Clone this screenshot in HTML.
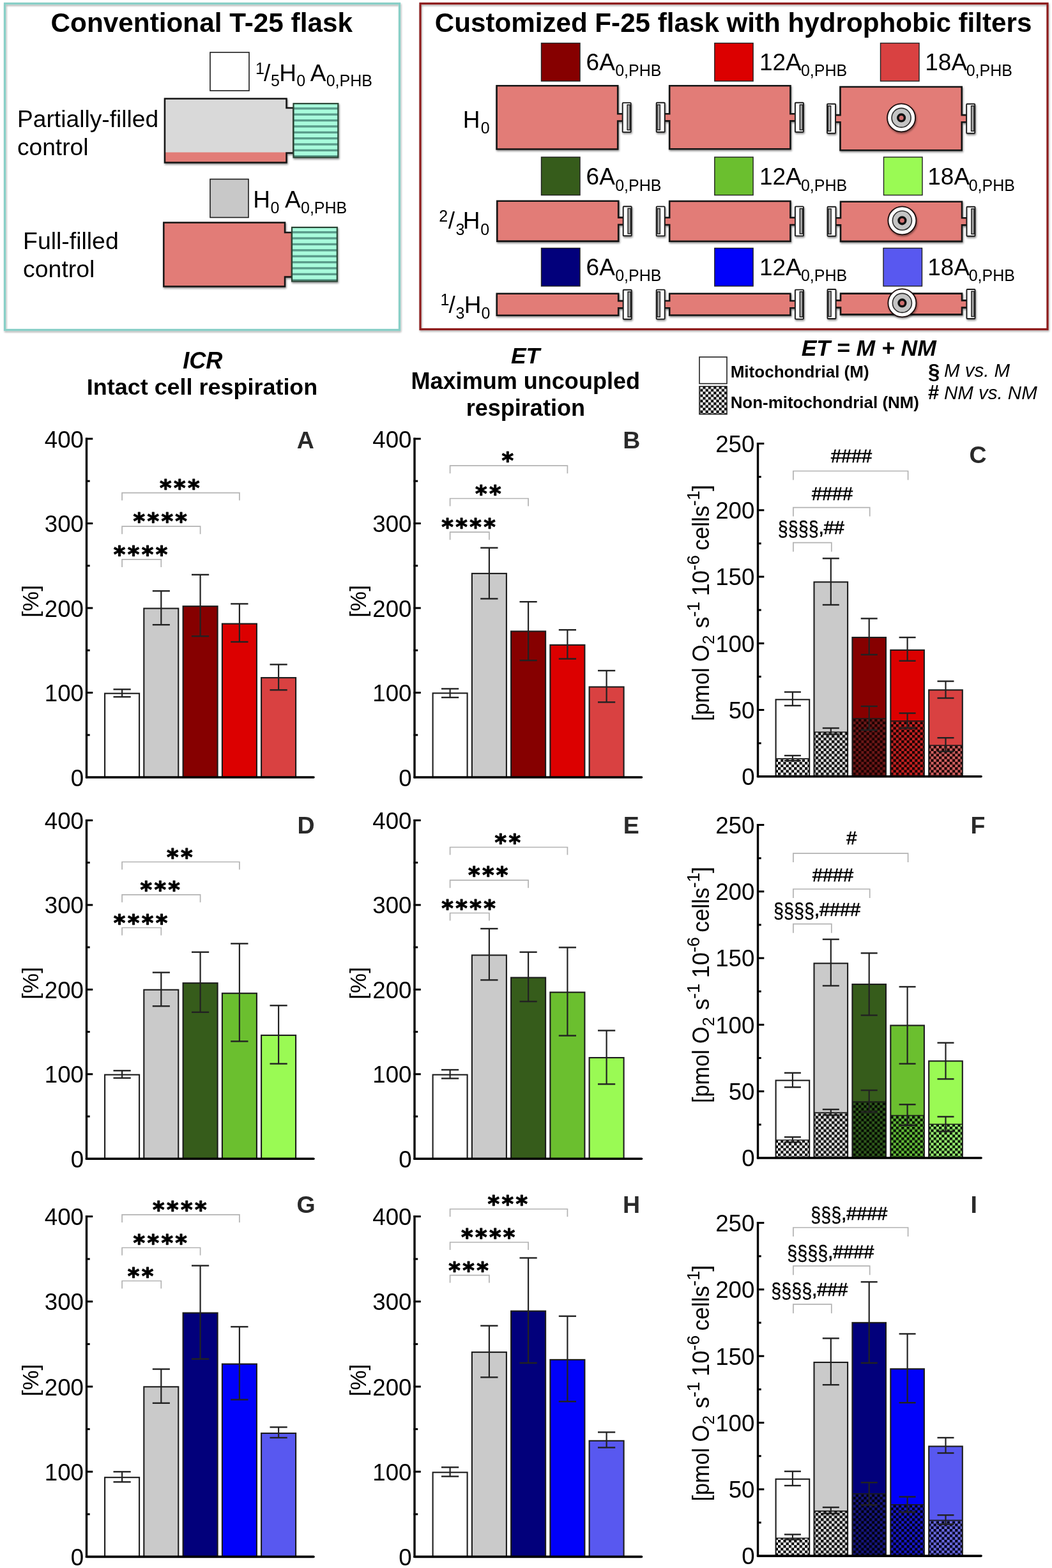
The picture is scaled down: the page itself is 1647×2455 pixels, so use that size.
<!DOCTYPE html><html><head><meta charset="utf-8"><title>F-25 flask respiration figure</title>
<style>html,body{margin:0;padding:0;background:#fff;overflow:hidden;}svg{display:block;}</style></head><body>
<svg width="1647" height="2455" viewBox="0 0 1647 2455">
<defs>
<filter id="sh" x="-10%" y="-10%" width="130%" height="140%"><feGaussianBlur in="SourceAlpha" stdDeviation="1.6"/><feOffset dx="0.6" dy="2.2" result="b"/><feComponentTransfer><feFuncA type="linear" slope="0.45"/></feComponentTransfer><feMerge><feMergeNode/><feMergeNode in="SourceGraphic"/></feMerge></filter>
<filter id="sh2" x="-5%" y="-5%" width="110%" height="110%"><feGaussianBlur in="SourceAlpha" stdDeviation="1.5"/><feOffset dx="0.5" dy="1.8" result="b"/><feComponentTransfer><feFuncA type="linear" slope="0.35"/></feComponentTransfer><feMerge><feMergeNode/><feMergeNode in="SourceGraphic"/></feMerge></filter>
<pattern id="chkW" patternUnits="userSpaceOnUse" width="8.4" height="8.4"><rect width="8.4" height="8.4" fill="#ffffff"/><rect width="4.2" height="4.2" fill="#000000"/><rect x="4.2" y="4.2" width="4.2" height="4.2" fill="#000000"/></pattern>
<pattern id="chkG" patternUnits="userSpaceOnUse" width="8.4" height="8.4"><rect width="8.4" height="8.4" fill="#dedede"/><rect width="4.2" height="4.2" fill="#000000"/><rect x="4.2" y="4.2" width="4.2" height="4.2" fill="#000000"/></pattern>
<pattern id="chkDR" patternUnits="userSpaceOnUse" width="8.4" height="8.4"><rect width="8.4" height="8.4" fill="#6c1818"/><rect width="4.2" height="4.2" fill="#1a0000"/><rect x="4.2" y="4.2" width="4.2" height="4.2" fill="#1a0000"/></pattern>
<pattern id="chkR" patternUnits="userSpaceOnUse" width="8.4" height="8.4"><rect width="8.4" height="8.4" fill="#c42222"/><rect width="4.2" height="4.2" fill="#180000"/><rect x="4.2" y="4.2" width="4.2" height="4.2" fill="#180000"/></pattern>
<pattern id="chkLR" patternUnits="userSpaceOnUse" width="8.4" height="8.4"><rect width="8.4" height="8.4" fill="#d26262"/><rect width="4.2" height="4.2" fill="#180000"/><rect x="4.2" y="4.2" width="4.2" height="4.2" fill="#180000"/></pattern>
<pattern id="chkDG" patternUnits="userSpaceOnUse" width="8.4" height="8.4"><rect width="8.4" height="8.4" fill="#2f5a1c"/><rect width="4.2" height="4.2" fill="#040a02"/><rect x="4.2" y="4.2" width="4.2" height="4.2" fill="#040a02"/></pattern>
<pattern id="chkG2" patternUnits="userSpaceOnUse" width="8.4" height="8.4"><rect width="8.4" height="8.4" fill="#62b838"/><rect width="4.2" height="4.2" fill="#041002"/><rect x="4.2" y="4.2" width="4.2" height="4.2" fill="#041002"/></pattern>
<pattern id="chkLG" patternUnits="userSpaceOnUse" width="8.4" height="8.4"><rect width="8.4" height="8.4" fill="#98f070"/><rect width="4.2" height="4.2" fill="#061204"/><rect x="4.2" y="4.2" width="4.2" height="4.2" fill="#061204"/></pattern>
<pattern id="chkDB" patternUnits="userSpaceOnUse" width="8.4" height="8.4"><rect width="8.4" height="8.4" fill="#16167e"/><rect width="4.2" height="4.2" fill="#00000e"/><rect x="4.2" y="4.2" width="4.2" height="4.2" fill="#00000e"/></pattern>
<pattern id="chkB" patternUnits="userSpaceOnUse" width="8.4" height="8.4"><rect width="8.4" height="8.4" fill="#1818c8"/><rect width="4.2" height="4.2" fill="#000016"/><rect x="4.2" y="4.2" width="4.2" height="4.2" fill="#000016"/></pattern>
<pattern id="chkLB" patternUnits="userSpaceOnUse" width="8.4" height="8.4"><rect width="8.4" height="8.4" fill="#6a6ae0"/><rect width="4.2" height="4.2" fill="#00001c"/><rect x="4.2" y="4.2" width="4.2" height="4.2" fill="#00001c"/></pattern>
</defs>
<rect width="1647" height="2455" fill="#fff"/>
<rect x="7.5" y="5.5" width="618" height="511" fill="none" stroke="#88cfc7" stroke-width="3.2" filter="url(#sh2)"/>
<text x="79.55" y="50.20" font-family="'Liberation Sans', Arial, sans-serif" font-size="42.3" font-weight="bold" font-style="normal" fill="#000" >Conventional T-25 flask</text>
<rect x="329" y="82" width="61" height="60" fill="#fff" stroke="#1c1c1c" stroke-width="1.6"/>
<rect x="329" y="280.5" width="60" height="60" fill="#c8c8c8" stroke="#1c1c1c" stroke-width="1.6"/>
<text font-family="'Liberation Sans', Arial, sans-serif" fill="#000"><tspan x="400.00" y="115.50" font-size="25" font-weight="normal" font-style="normal">1</tspan><tspan x="412.90" y="127.00" font-size="37" font-weight="normal" font-style="normal">/</tspan><tspan x="424.00" y="135.00" font-size="25" font-weight="normal" font-style="normal">5</tspan><tspan x="437.30" y="127.00" font-size="37" font-weight="normal" font-style="normal">H</tspan><tspan x="464.20" y="135.00" font-size="25" font-weight="normal" font-style="normal">0</tspan><tspan x="485.80" y="127.00" font-size="37" font-weight="normal" font-style="normal">A</tspan><tspan x="510.70" y="135.00" font-size="25" font-weight="normal" font-style="normal">0,PHB</tspan></text>
<text font-family="'Liberation Sans', Arial, sans-serif" fill="#000"><tspan x="396.20" y="325.30" font-size="37" font-weight="normal" font-style="normal">H</tspan><tspan x="423.50" y="333.50" font-size="25" font-weight="normal" font-style="normal">0</tspan><tspan x="446.00" y="325.30" font-size="37" font-weight="normal" font-style="normal">A</tspan><tspan x="471.00" y="333.50" font-size="25" font-weight="normal" font-style="normal">0,PHB</tspan></text>
<text x="27.00" y="199.00" font-family="'Liberation Sans', Arial, sans-serif" font-size="37.2" font-weight="normal" font-style="normal" fill="#000" >Partially-filled</text>
<text x="26.90" y="242.70" font-family="'Liberation Sans', Arial, sans-serif" font-size="37.2" font-weight="normal" font-style="normal" fill="#000" >control</text>
<text x="36.10" y="390.10" font-family="'Liberation Sans', Arial, sans-serif" font-size="37.4" font-weight="normal" font-style="normal" fill="#000" >Full-filled</text>
<text x="36.10" y="433.90" font-family="'Liberation Sans', Arial, sans-serif" font-size="37.4" font-weight="normal" font-style="normal" fill="#000" >control</text>
<g filter="url(#sh)"><path d="M258,154.5 L448.5,154.5 L448.5,169 L459.5,169 L459.5,239.5 L448.5,239.5 L448.5,254.5 L258,254.5 Z" fill="#d9d9d9" stroke="none"/>
<rect x="258" y="238.5" width="190.5" height="16.0" fill="#e27c77"/>
<path d="M258,154.5 L448.5,154.5 L448.5,169 L459.5,169 L459.5,239.5 L448.5,239.5 L448.5,254.5 L258,254.5 Z" fill="none" stroke="#141414" stroke-width="2.5" stroke-linejoin="miter"/></g>
<g filter="url(#sh)"><rect x="459.5" y="162.2" width="69.79999999999995" height="84.20000000000002" fill="#a8fcdc"/>
<rect x="459.5" y="168.19" width="69.79999999999995" height="3.37" fill="#5a9c8b"/>
<rect x="459.5" y="177.54" width="69.79999999999995" height="3.37" fill="#5a9c8b"/>
<rect x="459.5" y="186.90" width="69.79999999999995" height="3.37" fill="#5a9c8b"/>
<rect x="459.5" y="196.25" width="69.79999999999995" height="3.37" fill="#5a9c8b"/>
<rect x="459.5" y="205.61" width="69.79999999999995" height="3.37" fill="#5a9c8b"/>
<rect x="459.5" y="214.97" width="69.79999999999995" height="3.37" fill="#5a9c8b"/>
<rect x="459.5" y="224.32" width="69.79999999999995" height="3.37" fill="#5a9c8b"/>
<rect x="459.5" y="233.68" width="69.79999999999995" height="3.37" fill="#5a9c8b"/>
<rect x="459.5" y="243.03" width="69.79999999999995" height="3.37" fill="#5a9c8b"/>
<rect x="459.5" y="162.2" width="69.79999999999995" height="84.20000000000002" fill="none" stroke="#2b4536" stroke-width="2.2"/></g>
<g filter="url(#sh)"><path d="M256.3,348.6 L446,348.6 L446,364 L457,364 L457,433.5 L446,433.5 L446,448.6 L256.3,448.6 Z" fill="#e27c77" stroke="none"/>
<path d="M256.3,348.6 L446,348.6 L446,364 L457,364 L457,433.5 L446,433.5 L446,448.6 L256.3,448.6 Z" fill="none" stroke="#141414" stroke-width="2.5" stroke-linejoin="miter"/></g>
<g filter="url(#sh)"><rect x="457" y="356" width="70.79999999999995" height="84.39999999999998" fill="#a8fcdc"/>
<rect x="457" y="362.00" width="70.79999999999995" height="3.38" fill="#5a9c8b"/>
<rect x="457" y="371.38" width="70.79999999999995" height="3.38" fill="#5a9c8b"/>
<rect x="457" y="380.76" width="70.79999999999995" height="3.38" fill="#5a9c8b"/>
<rect x="457" y="390.14" width="70.79999999999995" height="3.38" fill="#5a9c8b"/>
<rect x="457" y="399.51" width="70.79999999999995" height="3.38" fill="#5a9c8b"/>
<rect x="457" y="408.89" width="70.79999999999995" height="3.38" fill="#5a9c8b"/>
<rect x="457" y="418.27" width="70.79999999999995" height="3.38" fill="#5a9c8b"/>
<rect x="457" y="427.65" width="70.79999999999995" height="3.38" fill="#5a9c8b"/>
<rect x="457" y="437.02" width="70.79999999999995" height="3.38" fill="#5a9c8b"/>
<rect x="457" y="356" width="70.79999999999995" height="84.39999999999998" fill="none" stroke="#2b4536" stroke-width="2.2"/></g>
<rect x="658" y="5.5" width="982" height="510" fill="none" stroke="#8e1d1d" stroke-width="3.2" filter="url(#sh2)"/>
<text x="680.75" y="50.40" font-family="'Liberation Sans', Arial, sans-serif" font-size="42.17" font-weight="bold" font-style="normal" fill="#000" >Customized F-25 flask with hydrophobic filters</text>
<rect x="847.5" y="67.5" width="60.5" height="59.5" fill="#860000" stroke="#222" stroke-width="1.4"/>
<rect x="1118.8" y="67.5" width="60.3" height="59.5" fill="#dc0000" stroke="#222" stroke-width="1.4"/>
<rect x="1378.5" y="67.5" width="60.5" height="59.5" fill="#d94141" stroke="#222" stroke-width="1.4"/>
<text font-family="'Liberation Sans', Arial, sans-serif" fill="#000"><tspan x="917.60" y="109.60" font-size="37" font-weight="normal" font-style="normal">6A</tspan><tspan x="963.20" y="119.20" font-size="25" font-weight="normal" font-style="normal">0,PHB</tspan></text>
<text font-family="'Liberation Sans', Arial, sans-serif" fill="#000"><tspan x="1188.95" y="109.60" font-size="37" font-weight="normal" font-style="normal">12A</tspan><tspan x="1253.90" y="119.20" font-size="25" font-weight="normal" font-style="normal">0,PHB</tspan></text>
<text font-family="'Liberation Sans', Arial, sans-serif" fill="#000"><tspan x="1448.25" y="109.60" font-size="37" font-weight="normal" font-style="normal">18A</tspan><tspan x="1512.70" y="119.20" font-size="25" font-weight="normal" font-style="normal">0,PHB</tspan></text>
<rect x="847.5" y="246" width="60.5" height="59.5" fill="#365c1b" stroke="#222" stroke-width="1.4"/>
<rect x="1118.8" y="246" width="60.3" height="59.5" fill="#6bbf2f" stroke="#222" stroke-width="1.4"/>
<rect x="1383.5" y="246" width="60.5" height="59.5" fill="#9afa54" stroke="#222" stroke-width="1.4"/>
<text font-family="'Liberation Sans', Arial, sans-serif" fill="#000"><tspan x="917.60" y="289.00" font-size="37" font-weight="normal" font-style="normal">6A</tspan><tspan x="963.20" y="298.60" font-size="25" font-weight="normal" font-style="normal">0,PHB</tspan></text>
<text font-family="'Liberation Sans', Arial, sans-serif" fill="#000"><tspan x="1188.95" y="289.00" font-size="37" font-weight="normal" font-style="normal">12A</tspan><tspan x="1253.90" y="298.60" font-size="25" font-weight="normal" font-style="normal">0,PHB</tspan></text>
<text font-family="'Liberation Sans', Arial, sans-serif" fill="#000"><tspan x="1452.25" y="289.00" font-size="37" font-weight="normal" font-style="normal">18A</tspan><tspan x="1516.70" y="298.60" font-size="25" font-weight="normal" font-style="normal">0,PHB</tspan></text>
<rect x="847.5" y="388.5" width="60.5" height="59.5" fill="#02007b" stroke="#222" stroke-width="1.4"/>
<rect x="1118.8" y="388.5" width="60.3" height="59.5" fill="#0000fa" stroke="#222" stroke-width="1.4"/>
<rect x="1383" y="388.5" width="60.5" height="59.5" fill="#5858f0" stroke="#222" stroke-width="1.4"/>
<text font-family="'Liberation Sans', Arial, sans-serif" fill="#000"><tspan x="917.60" y="430.70" font-size="37" font-weight="normal" font-style="normal">6A</tspan><tspan x="963.20" y="440.30" font-size="25" font-weight="normal" font-style="normal">0,PHB</tspan></text>
<text font-family="'Liberation Sans', Arial, sans-serif" fill="#000"><tspan x="1188.95" y="430.70" font-size="37" font-weight="normal" font-style="normal">12A</tspan><tspan x="1253.90" y="440.30" font-size="25" font-weight="normal" font-style="normal">0,PHB</tspan></text>
<text font-family="'Liberation Sans', Arial, sans-serif" fill="#000"><tspan x="1452.25" y="430.70" font-size="37" font-weight="normal" font-style="normal">18A</tspan><tspan x="1516.70" y="440.30" font-size="25" font-weight="normal" font-style="normal">0,PHB</tspan></text>
<g filter="url(#sh)"><path d="M777.6,134.3 L967.2,134.3 L967.2,178.3 L975.2,178.3 L975.2,189.5 L967.2,189.5 L967.2,233.5 L777.6,233.5 Z" fill="#e27c77" stroke="#141414" stroke-width="2.6"/>
<rect x="974.7" y="160.9" width="13.0" height="46" fill="#fff" stroke="#1c1c1c" stroke-width="1.9" rx="1"/>
<rect x="982.1" y="164.1" width="4.3" height="39.4" fill="#aaa" stroke="#222" stroke-width="1.5"/>
</g>
<g filter="url(#sh)"><path d="M1048.2,134.3 L1237.4,134.3 L1237.4,178.2 L1245.4,178.2 L1245.4,189.4 L1237.4,189.4 L1237.4,233.3 L1048.2,233.3 L1048.2,189.4 L1040.2,189.4 L1040.2,178.2 L1048.2,178.2 Z" fill="#e27c77" stroke="#141414" stroke-width="2.6"/>
<rect x="1244.9" y="160.8" width="13.0" height="46" fill="#fff" stroke="#1c1c1c" stroke-width="1.9" rx="1"/>
<rect x="1252.3" y="164.0" width="4.3" height="39.4" fill="#aaa" stroke="#222" stroke-width="1.5"/>
<rect x="1027.7" y="160.8" width="13.0" height="46" fill="#fff" stroke="#1c1c1c" stroke-width="1.9" rx="1"/>
<rect x="1029.0" y="164.0" width="4.3" height="39.4" fill="#aaa" stroke="#222" stroke-width="1.5"/>
</g>
<g filter="url(#sh)"><path d="M1315.5,136 L1505.7,136 L1505.7,180.1 L1513.7,180.1 L1513.7,191.2 L1505.7,191.2 L1505.7,235.3 L1315.5,235.3 L1315.5,191.2 L1307.5,191.2 L1307.5,180.1 L1315.5,180.1 Z" fill="#e27c77" stroke="#141414" stroke-width="2.6"/>
<rect x="1513.2" y="162.7" width="13.0" height="46" fill="#fff" stroke="#1c1c1c" stroke-width="1.9" rx="1"/>
<rect x="1520.6" y="165.8" width="4.3" height="39.4" fill="#aaa" stroke="#222" stroke-width="1.5"/>
<rect x="1295.0" y="162.7" width="13.0" height="46" fill="#fff" stroke="#1c1c1c" stroke-width="1.9" rx="1"/>
<rect x="1296.3" y="165.8" width="4.3" height="39.4" fill="#aaa" stroke="#222" stroke-width="1.5"/>
</g>
<g filter="url(#sh)"><circle cx="1411.1" cy="184.4" r="22" fill="#fff" stroke="#1a0a0a" stroke-width="1.8"/></g>
<circle cx="1411.1" cy="184.4" r="15" fill="#c4c4c4" stroke="#2a2a2a" stroke-width="1.6"/>
<circle cx="1411.1" cy="184.4" r="5.3" fill="#d07070" stroke="#111" stroke-width="3.6"/>
<g filter="url(#sh)"><path d="M778.3,314.8 L968.2,314.8 L968.2,340.6 L976.2,340.6 L976.2,351.8 L968.2,351.8 L968.2,377.6 L778.3,377.6 Z" fill="#e27c77" stroke="#141414" stroke-width="2.6"/>
<rect x="975.7" y="323.2" width="13.0" height="46" fill="#fff" stroke="#1c1c1c" stroke-width="1.9" rx="1"/>
<rect x="983.1" y="326.4" width="4.3" height="39.4" fill="#aaa" stroke="#222" stroke-width="1.5"/>
</g>
<g filter="url(#sh)"><path d="M1048.2,315 L1237.4,315 L1237.4,340.8 L1245.4,340.8 L1245.4,352.0 L1237.4,352.0 L1237.4,377.8 L1048.2,377.8 L1048.2,352.0 L1040.2,352.0 L1040.2,340.8 L1048.2,340.8 Z" fill="#e27c77" stroke="#141414" stroke-width="2.6"/>
<rect x="1244.9" y="323.4" width="13.0" height="46" fill="#fff" stroke="#1c1c1c" stroke-width="1.9" rx="1"/>
<rect x="1252.3" y="326.6" width="4.3" height="39.4" fill="#aaa" stroke="#222" stroke-width="1.5"/>
<rect x="1027.7" y="323.4" width="13.0" height="46" fill="#fff" stroke="#1c1c1c" stroke-width="1.9" rx="1"/>
<rect x="1029.0" y="326.6" width="4.3" height="39.4" fill="#aaa" stroke="#222" stroke-width="1.5"/>
</g>
<g filter="url(#sh)"><path d="M1316,315.7 L1506,315.7 L1506,341.2 L1514,341.2 L1514,352.4 L1506,352.4 L1506,377.9 L1316,377.9 L1316,352.4 L1308,352.4 L1308,341.2 L1316,341.2 Z" fill="#e27c77" stroke="#141414" stroke-width="2.6"/>
<rect x="1513.5" y="323.8" width="13.0" height="46" fill="#fff" stroke="#1c1c1c" stroke-width="1.9" rx="1"/>
<rect x="1520.9" y="327.0" width="4.3" height="39.4" fill="#aaa" stroke="#222" stroke-width="1.5"/>
<rect x="1295.5" y="323.8" width="13.0" height="46" fill="#fff" stroke="#1c1c1c" stroke-width="1.9" rx="1"/>
<rect x="1296.8" y="327.0" width="4.3" height="39.4" fill="#aaa" stroke="#222" stroke-width="1.5"/>
</g>
<g filter="url(#sh)"><circle cx="1412.4" cy="345.3" r="22" fill="#fff" stroke="#1a0a0a" stroke-width="1.8"/></g>
<circle cx="1412.4" cy="345.3" r="15" fill="#c4c4c4" stroke="#2a2a2a" stroke-width="1.6"/>
<circle cx="1412.4" cy="345.3" r="5.3" fill="#d07070" stroke="#111" stroke-width="3.6"/>
<g filter="url(#sh)"><path d="M777.8,459.8 L968.2,459.8 L968.2,471.1 L976.2,471.1 L976.2,482.4 L968.2,482.4 L968.2,493.7 L777.8,493.7 Z" fill="#e27c77" stroke="#141414" stroke-width="2.6"/>
<rect x="975.7" y="453.8" width="13.0" height="46" fill="#fff" stroke="#1c1c1c" stroke-width="1.9" rx="1"/>
<rect x="983.1" y="456.9" width="4.3" height="39.4" fill="#aaa" stroke="#222" stroke-width="1.5"/>
</g>
<g filter="url(#sh)"><path d="M1048.2,459.8 L1237.4,459.8 L1237.4,471.0 L1245.4,471.0 L1245.4,482.2 L1237.4,482.2 L1237.4,493.5 L1048.2,493.5 L1048.2,482.2 L1040.2,482.2 L1040.2,471.0 L1048.2,471.0 Z" fill="#e27c77" stroke="#141414" stroke-width="2.6"/>
<rect x="1244.9" y="453.6" width="13.0" height="46" fill="#fff" stroke="#1c1c1c" stroke-width="1.9" rx="1"/>
<rect x="1252.3" y="456.8" width="4.3" height="39.4" fill="#aaa" stroke="#222" stroke-width="1.5"/>
<rect x="1027.7" y="453.6" width="13.0" height="46" fill="#fff" stroke="#1c1c1c" stroke-width="1.9" rx="1"/>
<rect x="1029.0" y="456.8" width="4.3" height="39.4" fill="#aaa" stroke="#222" stroke-width="1.5"/>
</g>
<g filter="url(#sh)"><path d="M1316,459.6 L1506,459.6 L1506,470.4 L1514,470.4 L1514,481.6 L1506,481.6 L1506,492.4 L1316,492.4 L1316,481.6 L1308,481.6 L1308,470.4 L1316,470.4 Z" fill="#e27c77" stroke="#141414" stroke-width="2.6"/>
<rect x="1513.5" y="453.0" width="13.0" height="46" fill="#fff" stroke="#1c1c1c" stroke-width="1.9" rx="1"/>
<rect x="1520.9" y="456.2" width="4.3" height="39.4" fill="#aaa" stroke="#222" stroke-width="1.5"/>
<rect x="1295.5" y="453.0" width="13.0" height="46" fill="#fff" stroke="#1c1c1c" stroke-width="1.9" rx="1"/>
<rect x="1296.8" y="456.2" width="4.3" height="39.4" fill="#aaa" stroke="#222" stroke-width="1.5"/>
</g>
<g filter="url(#sh)"><circle cx="1412.4" cy="474.4" r="22" fill="#fff" stroke="#1a0a0a" stroke-width="1.8"/></g>
<circle cx="1412.4" cy="474.4" r="15" fill="#c4c4c4" stroke="#2a2a2a" stroke-width="1.6"/>
<circle cx="1412.4" cy="474.4" r="5.3" fill="#d07070" stroke="#111" stroke-width="3.6"/>
<text font-family="'Liberation Sans', Arial, sans-serif" fill="#000"><tspan x="724.80" y="199.90" font-size="37" font-weight="normal" font-style="normal">H</tspan><tspan x="752.70" y="209.10" font-size="25" font-weight="normal" font-style="normal">0</tspan></text>
<text font-family="'Liberation Sans', Arial, sans-serif" fill="#000"><tspan x="687.35" y="347.10" font-size="25" font-weight="normal" font-style="normal">2</tspan><tspan x="701.70" y="358.30" font-size="37" font-weight="normal" font-style="normal">/</tspan><tspan x="713.40" y="367.80" font-size="25" font-weight="normal" font-style="normal">3</tspan><tspan x="724.80" y="358.30" font-size="37" font-weight="normal" font-style="normal">H</tspan><tspan x="752.30" y="367.80" font-size="25" font-weight="normal" font-style="normal">0</tspan></text>
<text font-family="'Liberation Sans', Arial, sans-serif" fill="#000"><tspan x="689.50" y="478.10" font-size="25" font-weight="normal" font-style="normal">1</tspan><tspan x="702.60" y="489.50" font-size="37" font-weight="normal" font-style="normal">/</tspan><tspan x="713.40" y="499.10" font-size="25" font-weight="normal" font-style="normal">3</tspan><tspan x="726.70" y="489.50" font-size="37" font-weight="normal" font-style="normal">H</tspan><tspan x="753.60" y="499.10" font-size="25" font-weight="normal" font-style="normal">0</tspan></text>
<text x="286.15" y="576.90" font-family="'Liberation Sans', Arial, sans-serif" font-size="36.2" font-weight="bold" font-style="italic" fill="#000" >ICR</text>
<text x="135.80" y="617.70" font-family="'Liberation Sans', Arial, sans-serif" font-size="35.95" font-weight="bold" font-style="normal" fill="#000" >Intact cell respiration</text>
<text x="799.95" y="568.50" font-family="'Liberation Sans', Arial, sans-serif" font-size="35.5" font-weight="bold" font-style="italic" fill="#000" >ET</text>
<text x="643.50" y="609.30" font-family="'Liberation Sans', Arial, sans-serif" font-size="36.05" font-weight="bold" font-style="normal" fill="#000" >Maximum uncoupled</text>
<text x="729.70" y="650.70" font-family="'Liberation Sans', Arial, sans-serif" font-size="36.05" font-weight="bold" font-style="normal" fill="#000" >respiration</text>
<text x="1254.65" y="556.80" font-family="'Liberation Sans', Arial, sans-serif" font-size="35.5" font-weight="bold" font-style="italic" fill="#000" >ET = M + NM</text>
<rect x="1095" y="559" width="43" height="41.6" fill="#fff" stroke="#222" stroke-width="1.6"/>
<rect x="1095" y="605" width="43" height="43.5" fill="url(#chkW)" stroke="#222" stroke-width="1.6"/>
<text x="1143.65" y="590.50" font-family="'Liberation Sans', Arial, sans-serif" font-size="26.05" font-weight="bold" font-style="normal" fill="#000" >Mitochondrial (M)</text>
<text x="1143.65" y="639.20" font-family="'Liberation Sans', Arial, sans-serif" font-size="25.95" font-weight="bold" font-style="normal" fill="#000" >Non-mitochondrial (NM)</text>
<text font-family="'Liberation Sans', Arial, sans-serif" fill="#000"><tspan x="1453.00" y="592.50" font-size="33" font-weight="bold" font-style="normal">§</tspan><tspan x="1477.90" y="589.70" font-size="29.5" font-weight="normal" font-style="italic">M vs. M</tspan></text>
<text font-family="'Liberation Sans', Arial, sans-serif" fill="#000"><tspan x="1453.00" y="625.20" font-size="31" font-weight="bold" font-style="normal">#</tspan><tspan x="1477.90" y="624.50" font-size="29.5" font-weight="normal" font-style="italic">NM vs. NM</tspan></text>
<rect x="164.1" y="1085.7" width="54" height="131.3" fill="#ffffff" stroke="#1c1c1c" stroke-width="2.1"/>
<rect x="225.3" y="952.6" width="54" height="264.4" fill="#cacaca" stroke="#1c1c1c" stroke-width="2.1"/>
<rect x="286.6" y="949.2" width="54" height="267.8" fill="#860000" stroke="#1c1c1c" stroke-width="2.1"/>
<rect x="347.9" y="976.6" width="54" height="240.4" fill="#dc0000" stroke="#1c1c1c" stroke-width="2.1"/>
<rect x="409.1" y="1061.1" width="54" height="155.9" fill="#d94141" stroke="#1c1c1c" stroke-width="2.1"/>
<line x1="191.1" y1="1079.3" x2="191.1" y2="1091.1" stroke="#222" stroke-width="2.2"/>
<line x1="177.5" y1="1079.3" x2="204.7" y2="1079.3" stroke="#222" stroke-width="2.4"/>
<line x1="177.5" y1="1091.1" x2="204.7" y2="1091.1" stroke="#222" stroke-width="2.4"/>
<line x1="252.3" y1="925.3" x2="252.3" y2="978.2" stroke="#222" stroke-width="2.2"/>
<line x1="238.8" y1="925.3" x2="265.9" y2="925.3" stroke="#222" stroke-width="2.4"/>
<line x1="238.8" y1="978.2" x2="265.9" y2="978.2" stroke="#222" stroke-width="2.4"/>
<line x1="313.6" y1="899.8" x2="313.6" y2="996.1" stroke="#222" stroke-width="2.2"/>
<line x1="300.0" y1="899.8" x2="327.2" y2="899.8" stroke="#222" stroke-width="2.4"/>
<line x1="300.0" y1="996.1" x2="327.2" y2="996.1" stroke="#222" stroke-width="2.4"/>
<line x1="374.9" y1="945.4" x2="374.9" y2="1005.0" stroke="#222" stroke-width="2.2"/>
<line x1="361.2" y1="945.4" x2="388.5" y2="945.4" stroke="#222" stroke-width="2.4"/>
<line x1="361.2" y1="1005.0" x2="388.5" y2="1005.0" stroke="#222" stroke-width="2.4"/>
<line x1="436.1" y1="1040.4" x2="436.1" y2="1080.3" stroke="#222" stroke-width="2.2"/>
<line x1="422.5" y1="1040.4" x2="449.7" y2="1040.4" stroke="#222" stroke-width="2.4"/>
<line x1="422.5" y1="1080.3" x2="449.7" y2="1080.3" stroke="#222" stroke-width="2.4"/>
<line x1="134.0" y1="1084.5" x2="145.3" y2="1084.5" stroke="#000" stroke-width="3"/>
<line x1="134.0" y1="952.0" x2="145.3" y2="952.0" stroke="#000" stroke-width="3"/>
<line x1="134.0" y1="819.5" x2="145.3" y2="819.5" stroke="#000" stroke-width="3"/>
<line x1="134.0" y1="687.0" x2="145.3" y2="687.0" stroke="#000" stroke-width="3"/>
<line x1="134.0" y1="1150.8" x2="140.7" y2="1150.8" stroke="#000" stroke-width="3"/>
<line x1="134.0" y1="1018.2" x2="140.7" y2="1018.2" stroke="#000" stroke-width="3"/>
<line x1="134.0" y1="885.8" x2="140.7" y2="885.8" stroke="#000" stroke-width="3"/>
<line x1="134.0" y1="753.2" x2="140.7" y2="753.2" stroke="#000" stroke-width="3"/>
<text x="110.80" y="1230.50" font-family="'Liberation Sans', Arial, sans-serif" font-size="36.7" font-weight="normal" font-style="normal" fill="#000" >0</text>
<text x="69.80" y="1098.00" font-family="'Liberation Sans', Arial, sans-serif" font-size="36.7" font-weight="normal" font-style="normal" fill="#000" >100</text>
<text x="69.80" y="965.50" font-family="'Liberation Sans', Arial, sans-serif" font-size="36.7" font-weight="normal" font-style="normal" fill="#000" >200</text>
<text x="69.80" y="833.00" font-family="'Liberation Sans', Arial, sans-serif" font-size="36.7" font-weight="normal" font-style="normal" fill="#000" >300</text>
<text x="69.80" y="700.50" font-family="'Liberation Sans', Arial, sans-serif" font-size="36.7" font-weight="normal" font-style="normal" fill="#000" >400</text>
<line x1="135.5" y1="685.5" x2="135.5" y2="1218.5" stroke="#000" stroke-width="3.4"/>
<line x1="135.5" y1="1217.0" x2="491.0" y2="1217.0" stroke="#000" stroke-width="3.6" stroke-linecap="round"/>
<path d="M191.1,887.9 L191.1,875.9 L252.3,875.9 L252.3,887.9" fill="none" stroke="#b3b3b3" stroke-width="1.7"/>
<text x="221.7" y="879.9" font-family="'DejaVu Sans', 'Liberation Sans', sans-serif" font-weight="bold" font-size="35.5" letter-spacing="3.4" text-anchor="middle" fill="#000" stroke="#000" stroke-width="1.1" stroke-linejoin="round">****</text>
<path d="M191.1,836.2 L191.1,824.2 L313.6,824.2 L313.6,836.2" fill="none" stroke="#b3b3b3" stroke-width="1.7"/>
<text x="252.4" y="828.2" font-family="'DejaVu Sans', 'Liberation Sans', sans-serif" font-weight="bold" font-size="35.5" letter-spacing="3.4" text-anchor="middle" fill="#000" stroke="#000" stroke-width="1.1" stroke-linejoin="round">****</text>
<path d="M191.1,783.6 L191.1,771.6 L374.9,771.6 L374.9,783.6" fill="none" stroke="#b3b3b3" stroke-width="1.7"/>
<text x="283.0" y="775.6" font-family="'DejaVu Sans', 'Liberation Sans', sans-serif" font-weight="bold" font-size="35.5" letter-spacing="3.4" text-anchor="middle" fill="#000" stroke="#000" stroke-width="1.1" stroke-linejoin="round">***</text>
<text x="464.80" y="701.80" font-family="'Liberation Sans', Arial, sans-serif" font-size="37.5" font-weight="bold" font-style="normal" fill="#2a2a2a" >A</text>
<text transform="translate(59.5,941.4) rotate(-90)" x="0" y="0" font-family="'Liberation Sans', Arial, sans-serif" font-size="35" text-anchor="middle" fill="#000">[%]</text>
<rect x="677.6" y="1085.3" width="54" height="131.7" fill="#ffffff" stroke="#1c1c1c" stroke-width="2.1"/>
<rect x="738.9" y="897.9" width="54" height="319.1" fill="#cacaca" stroke="#1c1c1c" stroke-width="2.1"/>
<rect x="800.1" y="988.4" width="54" height="228.6" fill="#860000" stroke="#1c1c1c" stroke-width="2.1"/>
<rect x="861.4" y="1009.8" width="54" height="207.2" fill="#dc0000" stroke="#1c1c1c" stroke-width="2.1"/>
<rect x="922.6" y="1075.5" width="54" height="141.5" fill="#d94141" stroke="#1c1c1c" stroke-width="2.1"/>
<line x1="704.6" y1="1078.4" x2="704.6" y2="1092.0" stroke="#222" stroke-width="2.2"/>
<line x1="691.0" y1="1078.4" x2="718.2" y2="1078.4" stroke="#222" stroke-width="2.4"/>
<line x1="691.0" y1="1092.0" x2="718.2" y2="1092.0" stroke="#222" stroke-width="2.4"/>
<line x1="765.9" y1="857.7" x2="765.9" y2="937.4" stroke="#222" stroke-width="2.2"/>
<line x1="752.2" y1="857.7" x2="779.5" y2="857.7" stroke="#222" stroke-width="2.4"/>
<line x1="752.2" y1="937.4" x2="779.5" y2="937.4" stroke="#222" stroke-width="2.4"/>
<line x1="827.1" y1="942.2" x2="827.1" y2="1034.0" stroke="#222" stroke-width="2.2"/>
<line x1="813.5" y1="942.2" x2="840.7" y2="942.2" stroke="#222" stroke-width="2.4"/>
<line x1="813.5" y1="1034.0" x2="840.7" y2="1034.0" stroke="#222" stroke-width="2.4"/>
<line x1="888.4" y1="986.2" x2="888.4" y2="1031.5" stroke="#222" stroke-width="2.2"/>
<line x1="874.8" y1="986.2" x2="902.0" y2="986.2" stroke="#222" stroke-width="2.4"/>
<line x1="874.8" y1="1031.5" x2="902.0" y2="1031.5" stroke="#222" stroke-width="2.4"/>
<line x1="949.6" y1="1050.0" x2="949.6" y2="1099.4" stroke="#222" stroke-width="2.2"/>
<line x1="936.0" y1="1050.0" x2="963.2" y2="1050.0" stroke="#222" stroke-width="2.4"/>
<line x1="936.0" y1="1099.4" x2="963.2" y2="1099.4" stroke="#222" stroke-width="2.4"/>
<line x1="647.5" y1="1084.5" x2="658.8" y2="1084.5" stroke="#000" stroke-width="3"/>
<line x1="647.5" y1="952.0" x2="658.8" y2="952.0" stroke="#000" stroke-width="3"/>
<line x1="647.5" y1="819.5" x2="658.8" y2="819.5" stroke="#000" stroke-width="3"/>
<line x1="647.5" y1="687.0" x2="658.8" y2="687.0" stroke="#000" stroke-width="3"/>
<line x1="647.5" y1="1150.8" x2="654.2" y2="1150.8" stroke="#000" stroke-width="3"/>
<line x1="647.5" y1="1018.2" x2="654.2" y2="1018.2" stroke="#000" stroke-width="3"/>
<line x1="647.5" y1="885.8" x2="654.2" y2="885.8" stroke="#000" stroke-width="3"/>
<line x1="647.5" y1="753.2" x2="654.2" y2="753.2" stroke="#000" stroke-width="3"/>
<text x="624.30" y="1230.50" font-family="'Liberation Sans', Arial, sans-serif" font-size="36.7" font-weight="normal" font-style="normal" fill="#000" >0</text>
<text x="583.30" y="1098.00" font-family="'Liberation Sans', Arial, sans-serif" font-size="36.7" font-weight="normal" font-style="normal" fill="#000" >100</text>
<text x="583.30" y="965.50" font-family="'Liberation Sans', Arial, sans-serif" font-size="36.7" font-weight="normal" font-style="normal" fill="#000" >200</text>
<text x="583.30" y="833.00" font-family="'Liberation Sans', Arial, sans-serif" font-size="36.7" font-weight="normal" font-style="normal" fill="#000" >300</text>
<text x="583.30" y="700.50" font-family="'Liberation Sans', Arial, sans-serif" font-size="36.7" font-weight="normal" font-style="normal" fill="#000" >400</text>
<line x1="649.0" y1="685.5" x2="649.0" y2="1218.5" stroke="#000" stroke-width="3.4"/>
<line x1="649.0" y1="1217.0" x2="1004.5" y2="1217.0" stroke="#000" stroke-width="3.6" stroke-linecap="round"/>
<path d="M704.6,845.2 L704.6,833.2 L765.9,833.2 L765.9,845.2" fill="none" stroke="#b3b3b3" stroke-width="1.7"/>
<text x="735.2" y="837.2" font-family="'DejaVu Sans', 'Liberation Sans', sans-serif" font-weight="bold" font-size="35.5" letter-spacing="3.4" text-anchor="middle" fill="#000" stroke="#000" stroke-width="1.1" stroke-linejoin="round">****</text>
<path d="M704.6,792.5 L704.6,780.5 L827.1,780.5 L827.1,792.5" fill="none" stroke="#b3b3b3" stroke-width="1.7"/>
<text x="765.9" y="784.5" font-family="'DejaVu Sans', 'Liberation Sans', sans-serif" font-weight="bold" font-size="35.5" letter-spacing="3.4" text-anchor="middle" fill="#000" stroke="#000" stroke-width="1.1" stroke-linejoin="round">**</text>
<path d="M704.6,741.2 L704.6,729.2 L888.4,729.2 L888.4,741.2" fill="none" stroke="#b3b3b3" stroke-width="1.7"/>
<text x="796.5" y="733.2" font-family="'DejaVu Sans', 'Liberation Sans', sans-serif" font-weight="bold" font-size="35.5" letter-spacing="3.4" text-anchor="middle" fill="#000" stroke="#000" stroke-width="1.1" stroke-linejoin="round">*</text>
<text x="975.30" y="701.90" font-family="'Liberation Sans', Arial, sans-serif" font-size="37.5" font-weight="bold" font-style="normal" fill="#2a2a2a" >B</text>
<text transform="translate(573.0,941.4) rotate(-90)" x="0" y="0" font-family="'Liberation Sans', Arial, sans-serif" font-size="35" text-anchor="middle" fill="#000">[%]</text>
<rect x="1214.6" y="1095.3" width="52.6" height="120.5" fill="#ffffff" stroke="none"/>
<rect x="1214.6" y="1187.7" width="52.6" height="28.1" fill="url(#chkW)" stroke="none"/>
<line x1="1214.6" y1="1187.7" x2="1267.2" y2="1187.7" stroke="#1c1c1c" stroke-width="1.6"/>
<rect x="1214.6" y="1095.3" width="52.6" height="120.5" fill="none" stroke="#1c1c1c" stroke-width="2.1"/>
<rect x="1274.5" y="911.3" width="52.6" height="304.5" fill="#cacaca" stroke="none"/>
<rect x="1274.5" y="1146.3" width="52.6" height="69.5" fill="url(#chkG)" stroke="none"/>
<line x1="1274.5" y1="1146.3" x2="1327.1" y2="1146.3" stroke="#1c1c1c" stroke-width="1.6"/>
<rect x="1274.5" y="911.3" width="52.6" height="304.5" fill="none" stroke="#1c1c1c" stroke-width="2.1"/>
<rect x="1334.4" y="998.0" width="52.6" height="217.8" fill="#860000" stroke="none"/>
<rect x="1334.4" y="1125.0" width="52.6" height="90.8" fill="url(#chkDR)" stroke="none"/>
<line x1="1334.4" y1="1125.0" x2="1387.0" y2="1125.0" stroke="#1c1c1c" stroke-width="1.6"/>
<rect x="1334.4" y="998.0" width="52.6" height="217.8" fill="none" stroke="#1c1c1c" stroke-width="2.1"/>
<rect x="1394.3" y="1017.8" width="52.6" height="198.0" fill="#dc0000" stroke="none"/>
<rect x="1394.3" y="1128.7" width="52.6" height="87.1" fill="url(#chkR)" stroke="none"/>
<line x1="1394.3" y1="1128.7" x2="1446.9" y2="1128.7" stroke="#1c1c1c" stroke-width="1.6"/>
<rect x="1394.3" y="1017.8" width="52.6" height="198.0" fill="none" stroke="#1c1c1c" stroke-width="2.1"/>
<rect x="1454.2" y="1080.3" width="52.6" height="135.5" fill="#d94141" stroke="none"/>
<rect x="1454.2" y="1167.0" width="52.6" height="48.8" fill="url(#chkLR)" stroke="none"/>
<line x1="1454.2" y1="1167.0" x2="1506.8" y2="1167.0" stroke="#1c1c1c" stroke-width="1.6"/>
<rect x="1454.2" y="1080.3" width="52.6" height="135.5" fill="none" stroke="#1c1c1c" stroke-width="2.1"/>
<line x1="1240.9" y1="1083.5" x2="1240.9" y2="1104.8" stroke="#222" stroke-width="2.2"/>
<line x1="1227.9" y1="1083.5" x2="1253.9" y2="1083.5" stroke="#222" stroke-width="2.4"/>
<line x1="1227.9" y1="1104.8" x2="1253.9" y2="1104.8" stroke="#222" stroke-width="2.4"/>
<line x1="1240.9" y1="1183.0" x2="1240.9" y2="1191.0" stroke="#222" stroke-width="2.2"/>
<line x1="1227.9" y1="1183.0" x2="1253.9" y2="1183.0" stroke="#222" stroke-width="2.4"/>
<line x1="1227.9" y1="1191.0" x2="1253.9" y2="1191.0" stroke="#222" stroke-width="2.4"/>
<line x1="1300.8" y1="874.3" x2="1300.8" y2="947.0" stroke="#222" stroke-width="2.2"/>
<line x1="1287.8" y1="874.3" x2="1313.8" y2="874.3" stroke="#222" stroke-width="2.4"/>
<line x1="1287.8" y1="947.0" x2="1313.8" y2="947.0" stroke="#222" stroke-width="2.4"/>
<line x1="1300.8" y1="1140.0" x2="1300.8" y2="1149.5" stroke="#222" stroke-width="2.2"/>
<line x1="1287.8" y1="1140.0" x2="1313.8" y2="1140.0" stroke="#222" stroke-width="2.4"/>
<line x1="1287.8" y1="1149.5" x2="1313.8" y2="1149.5" stroke="#222" stroke-width="2.4"/>
<line x1="1360.7" y1="968.4" x2="1360.7" y2="1025.0" stroke="#222" stroke-width="2.2"/>
<line x1="1347.7" y1="968.4" x2="1373.7" y2="968.4" stroke="#222" stroke-width="2.4"/>
<line x1="1347.7" y1="1025.0" x2="1373.7" y2="1025.0" stroke="#222" stroke-width="2.4"/>
<line x1="1360.7" y1="1105.8" x2="1360.7" y2="1143.0" stroke="#222" stroke-width="2.2"/>
<line x1="1347.7" y1="1105.8" x2="1373.7" y2="1105.8" stroke="#222" stroke-width="2.4"/>
<line x1="1347.7" y1="1143.0" x2="1373.7" y2="1143.0" stroke="#222" stroke-width="2.4"/>
<line x1="1420.6" y1="998.0" x2="1420.6" y2="1034.7" stroke="#222" stroke-width="2.2"/>
<line x1="1407.6" y1="998.0" x2="1433.6" y2="998.0" stroke="#222" stroke-width="2.4"/>
<line x1="1407.6" y1="1034.7" x2="1433.6" y2="1034.7" stroke="#222" stroke-width="2.4"/>
<line x1="1420.6" y1="1116.6" x2="1420.6" y2="1140.0" stroke="#222" stroke-width="2.2"/>
<line x1="1407.6" y1="1116.6" x2="1433.6" y2="1116.6" stroke="#222" stroke-width="2.4"/>
<line x1="1407.6" y1="1140.0" x2="1433.6" y2="1140.0" stroke="#222" stroke-width="2.4"/>
<line x1="1480.5" y1="1066.6" x2="1480.5" y2="1093.0" stroke="#222" stroke-width="2.2"/>
<line x1="1467.5" y1="1066.6" x2="1493.5" y2="1066.6" stroke="#222" stroke-width="2.4"/>
<line x1="1467.5" y1="1093.0" x2="1493.5" y2="1093.0" stroke="#222" stroke-width="2.4"/>
<line x1="1480.5" y1="1155.2" x2="1480.5" y2="1176.6" stroke="#222" stroke-width="2.2"/>
<line x1="1467.5" y1="1155.2" x2="1493.5" y2="1155.2" stroke="#222" stroke-width="2.4"/>
<line x1="1467.5" y1="1176.6" x2="1493.5" y2="1176.6" stroke="#222" stroke-width="2.4"/>
<line x1="1185.0" y1="1111.5" x2="1196.3" y2="1111.5" stroke="#000" stroke-width="3"/>
<line x1="1185.0" y1="1007.3" x2="1196.3" y2="1007.3" stroke="#000" stroke-width="3"/>
<line x1="1185.0" y1="903.0" x2="1196.3" y2="903.0" stroke="#000" stroke-width="3"/>
<line x1="1185.0" y1="798.8" x2="1196.3" y2="798.8" stroke="#000" stroke-width="3"/>
<line x1="1185.0" y1="694.5" x2="1196.3" y2="694.5" stroke="#000" stroke-width="3"/>
<line x1="1185.0" y1="1163.7" x2="1191.7" y2="1163.7" stroke="#000" stroke-width="3"/>
<line x1="1185.0" y1="1059.4" x2="1191.7" y2="1059.4" stroke="#000" stroke-width="3"/>
<line x1="1185.0" y1="955.1" x2="1191.7" y2="955.1" stroke="#000" stroke-width="3"/>
<line x1="1185.0" y1="850.9" x2="1191.7" y2="850.9" stroke="#000" stroke-width="3"/>
<line x1="1185.0" y1="746.6" x2="1191.7" y2="746.6" stroke="#000" stroke-width="3"/>
<text x="1161.20" y="1229.10" font-family="'Liberation Sans', Arial, sans-serif" font-size="36.7" font-weight="normal" font-style="normal" fill="#000" >0</text>
<text x="1140.70" y="1124.84" font-family="'Liberation Sans', Arial, sans-serif" font-size="36.7" font-weight="normal" font-style="normal" fill="#000" >50</text>
<text x="1120.20" y="1020.58" font-family="'Liberation Sans', Arial, sans-serif" font-size="36.7" font-weight="normal" font-style="normal" fill="#000" >100</text>
<text x="1120.20" y="916.32" font-family="'Liberation Sans', Arial, sans-serif" font-size="36.7" font-weight="normal" font-style="normal" fill="#000" >150</text>
<text x="1120.20" y="812.06" font-family="'Liberation Sans', Arial, sans-serif" font-size="36.7" font-weight="normal" font-style="normal" fill="#000" >200</text>
<text x="1120.20" y="707.80" font-family="'Liberation Sans', Arial, sans-serif" font-size="36.7" font-weight="normal" font-style="normal" fill="#000" >250</text>
<line x1="1186.5" y1="693.0" x2="1186.5" y2="1217.3" stroke="#000" stroke-width="3.4"/>
<line x1="1186.5" y1="1215.8" x2="1536.1" y2="1215.8" stroke="#000" stroke-width="3.6" stroke-linecap="round"/>
<path d="M1241.9,863.7 L1241.9,849.7 L1301.8,849.7 L1301.8,863.7" fill="none" stroke="#b3b3b3" stroke-width="1.7"/>
<text font-family="'Liberation Sans', Arial, sans-serif" fill="#000" stroke="#000" stroke-width="0.7"><tspan x="1217.75" y="839.00" font-size="33" textLength="63.95" lengthAdjust="spacingAndGlyphs" stroke-width="0.35">§§§§</tspan><tspan x="1281.70" y="835.80" font-size="28.8">,##</tspan></text>
<path d="M1241.9,808.6 L1241.9,794.6 L1361.7,794.6 L1361.7,808.6" fill="none" stroke="#b3b3b3" stroke-width="1.7"/>
<text font-family="'Liberation Sans', Arial, sans-serif" fill="#000" stroke="#000" stroke-width="0.7"><tspan x="1271.03" y="782.50" font-size="28.8">####</tspan></text>
<path d="M1241.9,751.5 L1241.9,737.5 L1421.6,737.5 L1421.6,751.5" fill="none" stroke="#b3b3b3" stroke-width="1.7"/>
<text font-family="'Liberation Sans', Arial, sans-serif" fill="#000" stroke="#000" stroke-width="0.7"><tspan x="1300.88" y="724.40" font-size="28.8">####</tspan></text>
<text x="1517.40" y="724.50" font-family="'Liberation Sans', Arial, sans-serif" font-size="37.5" font-weight="bold" font-style="normal" fill="#2a2a2a" >C</text>
<text transform="translate(1109.7,1128.60) rotate(-90)" font-family="'Liberation Sans', Arial, sans-serif" fill="#000"><tspan x="-0.37" y="0" font-size="36" textLength="119.68" lengthAdjust="spacingAndGlyphs">[pmol O</tspan><tspan x="119.75" y="8.1" font-size="26">2</tspan><tspan x="145.20" y="0" font-size="36">s</tspan><tspan x="162.55" y="-14.6" font-size="27.2">-1</tspan><tspan x="195.24" y="0" font-size="36" textLength="40.21" lengthAdjust="spacingAndGlyphs">10</tspan><tspan x="235.35" y="-14.6" font-size="27.2">-6</tspan><tspan x="266.74" y="0" font-size="36" textLength="70.31" lengthAdjust="spacingAndGlyphs">cells</tspan><tspan x="336.35" y="-14.6" font-size="27.2">-1</tspan><tspan x="359.55" y="0" font-size="36">]</tspan></text>
<rect x="164.1" y="1682.7" width="54" height="131.5" fill="#ffffff" stroke="#1c1c1c" stroke-width="2.1"/>
<rect x="225.3" y="1549.7" width="54" height="264.5" fill="#cacaca" stroke="#1c1c1c" stroke-width="2.1"/>
<rect x="286.6" y="1539.2" width="54" height="275.0" fill="#365c1b" stroke="#1c1c1c" stroke-width="2.1"/>
<rect x="347.9" y="1555.2" width="54" height="259.0" fill="#6bbf2f" stroke="#1c1c1c" stroke-width="2.1"/>
<rect x="409.1" y="1620.9" width="54" height="193.3" fill="#9afa54" stroke="#1c1c1c" stroke-width="2.1"/>
<line x1="191.1" y1="1676.3" x2="191.1" y2="1687.8" stroke="#222" stroke-width="2.2"/>
<line x1="177.5" y1="1676.3" x2="204.7" y2="1676.3" stroke="#222" stroke-width="2.4"/>
<line x1="177.5" y1="1687.8" x2="204.7" y2="1687.8" stroke="#222" stroke-width="2.4"/>
<line x1="252.3" y1="1522.6" x2="252.3" y2="1575.3" stroke="#222" stroke-width="2.2"/>
<line x1="238.8" y1="1522.6" x2="265.9" y2="1522.6" stroke="#222" stroke-width="2.4"/>
<line x1="238.8" y1="1575.3" x2="265.9" y2="1575.3" stroke="#222" stroke-width="2.4"/>
<line x1="313.6" y1="1490.7" x2="313.6" y2="1584.8" stroke="#222" stroke-width="2.2"/>
<line x1="300.0" y1="1490.7" x2="327.2" y2="1490.7" stroke="#222" stroke-width="2.4"/>
<line x1="300.0" y1="1584.8" x2="327.2" y2="1584.8" stroke="#222" stroke-width="2.4"/>
<line x1="374.9" y1="1477.4" x2="374.9" y2="1630.4" stroke="#222" stroke-width="2.2"/>
<line x1="361.2" y1="1477.4" x2="388.5" y2="1477.4" stroke="#222" stroke-width="2.4"/>
<line x1="361.2" y1="1630.4" x2="388.5" y2="1630.4" stroke="#222" stroke-width="2.4"/>
<line x1="436.1" y1="1574.3" x2="436.1" y2="1665.5" stroke="#222" stroke-width="2.2"/>
<line x1="422.5" y1="1574.3" x2="449.7" y2="1574.3" stroke="#222" stroke-width="2.4"/>
<line x1="422.5" y1="1665.5" x2="449.7" y2="1665.5" stroke="#222" stroke-width="2.4"/>
<line x1="134.0" y1="1681.8" x2="145.3" y2="1681.8" stroke="#000" stroke-width="3"/>
<line x1="134.0" y1="1549.3" x2="145.3" y2="1549.3" stroke="#000" stroke-width="3"/>
<line x1="134.0" y1="1416.9" x2="145.3" y2="1416.9" stroke="#000" stroke-width="3"/>
<line x1="134.0" y1="1284.4" x2="145.3" y2="1284.4" stroke="#000" stroke-width="3"/>
<line x1="134.0" y1="1748.0" x2="140.7" y2="1748.0" stroke="#000" stroke-width="3"/>
<line x1="134.0" y1="1615.5" x2="140.7" y2="1615.5" stroke="#000" stroke-width="3"/>
<line x1="134.0" y1="1483.1" x2="140.7" y2="1483.1" stroke="#000" stroke-width="3"/>
<line x1="134.0" y1="1350.6" x2="140.7" y2="1350.6" stroke="#000" stroke-width="3"/>
<text x="110.80" y="1827.70" font-family="'Liberation Sans', Arial, sans-serif" font-size="36.7" font-weight="normal" font-style="normal" fill="#000" >0</text>
<text x="69.80" y="1695.25" font-family="'Liberation Sans', Arial, sans-serif" font-size="36.7" font-weight="normal" font-style="normal" fill="#000" >100</text>
<text x="69.80" y="1562.80" font-family="'Liberation Sans', Arial, sans-serif" font-size="36.7" font-weight="normal" font-style="normal" fill="#000" >200</text>
<text x="69.80" y="1430.35" font-family="'Liberation Sans', Arial, sans-serif" font-size="36.7" font-weight="normal" font-style="normal" fill="#000" >300</text>
<text x="69.80" y="1297.90" font-family="'Liberation Sans', Arial, sans-serif" font-size="36.7" font-weight="normal" font-style="normal" fill="#000" >400</text>
<line x1="135.5" y1="1282.9" x2="135.5" y2="1815.7" stroke="#000" stroke-width="3.4"/>
<line x1="135.5" y1="1814.2" x2="491.0" y2="1814.2" stroke="#000" stroke-width="3.6" stroke-linecap="round"/>
<path d="M191.1,1464.5 L191.1,1452.5 L252.3,1452.5 L252.3,1464.5" fill="none" stroke="#b3b3b3" stroke-width="1.7"/>
<text x="221.7" y="1456.5" font-family="'DejaVu Sans', 'Liberation Sans', sans-serif" font-weight="bold" font-size="35.5" letter-spacing="3.4" text-anchor="middle" fill="#000" stroke="#000" stroke-width="1.1" stroke-linejoin="round">****</text>
<path d="M191.1,1412.8 L191.1,1400.8 L313.6,1400.8 L313.6,1412.8" fill="none" stroke="#b3b3b3" stroke-width="1.7"/>
<text x="252.4" y="1404.8" font-family="'DejaVu Sans', 'Liberation Sans', sans-serif" font-weight="bold" font-size="35.5" letter-spacing="3.4" text-anchor="middle" fill="#000" stroke="#000" stroke-width="1.1" stroke-linejoin="round">***</text>
<path d="M191.1,1361.5 L191.1,1349.5 L374.9,1349.5 L374.9,1361.5" fill="none" stroke="#b3b3b3" stroke-width="1.7"/>
<text x="283.0" y="1353.5" font-family="'DejaVu Sans', 'Liberation Sans', sans-serif" font-weight="bold" font-size="35.5" letter-spacing="3.4" text-anchor="middle" fill="#000" stroke="#000" stroke-width="1.1" stroke-linejoin="round">**</text>
<text x="465.50" y="1305.00" font-family="'Liberation Sans', Arial, sans-serif" font-size="37.5" font-weight="bold" font-style="normal" fill="#2a2a2a" >D</text>
<text transform="translate(59.5,1539.4) rotate(-90)" x="0" y="0" font-family="'Liberation Sans', Arial, sans-serif" font-size="35" text-anchor="middle" fill="#000">[%]</text>
<rect x="677.6" y="1682.7" width="54" height="131.5" fill="#ffffff" stroke="#1c1c1c" stroke-width="2.1"/>
<rect x="738.9" y="1495.5" width="54" height="318.7" fill="#cacaca" stroke="#1c1c1c" stroke-width="2.1"/>
<rect x="800.1" y="1530.6" width="54" height="283.6" fill="#365c1b" stroke="#1c1c1c" stroke-width="2.1"/>
<rect x="861.4" y="1553.6" width="54" height="260.6" fill="#6bbf2f" stroke="#1c1c1c" stroke-width="2.1"/>
<rect x="922.6" y="1656.0" width="54" height="158.2" fill="#9afa54" stroke="#1c1c1c" stroke-width="2.1"/>
<line x1="704.6" y1="1675.0" x2="704.6" y2="1688.5" stroke="#222" stroke-width="2.2"/>
<line x1="691.0" y1="1675.0" x2="718.2" y2="1675.0" stroke="#222" stroke-width="2.4"/>
<line x1="691.0" y1="1688.5" x2="718.2" y2="1688.5" stroke="#222" stroke-width="2.4"/>
<line x1="765.9" y1="1454.0" x2="765.9" y2="1534.4" stroke="#222" stroke-width="2.2"/>
<line x1="752.2" y1="1454.0" x2="779.5" y2="1454.0" stroke="#222" stroke-width="2.4"/>
<line x1="752.2" y1="1534.4" x2="779.5" y2="1534.4" stroke="#222" stroke-width="2.4"/>
<line x1="827.1" y1="1490.7" x2="827.1" y2="1568.0" stroke="#222" stroke-width="2.2"/>
<line x1="813.5" y1="1490.7" x2="840.7" y2="1490.7" stroke="#222" stroke-width="2.4"/>
<line x1="813.5" y1="1568.0" x2="840.7" y2="1568.0" stroke="#222" stroke-width="2.4"/>
<line x1="888.4" y1="1483.4" x2="888.4" y2="1621.5" stroke="#222" stroke-width="2.2"/>
<line x1="874.8" y1="1483.4" x2="902.0" y2="1483.4" stroke="#222" stroke-width="2.4"/>
<line x1="874.8" y1="1621.5" x2="902.0" y2="1621.5" stroke="#222" stroke-width="2.4"/>
<line x1="949.6" y1="1613.5" x2="949.6" y2="1697.4" stroke="#222" stroke-width="2.2"/>
<line x1="936.0" y1="1613.5" x2="963.2" y2="1613.5" stroke="#222" stroke-width="2.4"/>
<line x1="936.0" y1="1697.4" x2="963.2" y2="1697.4" stroke="#222" stroke-width="2.4"/>
<line x1="647.5" y1="1681.8" x2="658.8" y2="1681.8" stroke="#000" stroke-width="3"/>
<line x1="647.5" y1="1549.3" x2="658.8" y2="1549.3" stroke="#000" stroke-width="3"/>
<line x1="647.5" y1="1416.9" x2="658.8" y2="1416.9" stroke="#000" stroke-width="3"/>
<line x1="647.5" y1="1284.4" x2="658.8" y2="1284.4" stroke="#000" stroke-width="3"/>
<line x1="647.5" y1="1748.0" x2="654.2" y2="1748.0" stroke="#000" stroke-width="3"/>
<line x1="647.5" y1="1615.5" x2="654.2" y2="1615.5" stroke="#000" stroke-width="3"/>
<line x1="647.5" y1="1483.1" x2="654.2" y2="1483.1" stroke="#000" stroke-width="3"/>
<line x1="647.5" y1="1350.6" x2="654.2" y2="1350.6" stroke="#000" stroke-width="3"/>
<text x="624.30" y="1827.70" font-family="'Liberation Sans', Arial, sans-serif" font-size="36.7" font-weight="normal" font-style="normal" fill="#000" >0</text>
<text x="583.30" y="1695.25" font-family="'Liberation Sans', Arial, sans-serif" font-size="36.7" font-weight="normal" font-style="normal" fill="#000" >100</text>
<text x="583.30" y="1562.80" font-family="'Liberation Sans', Arial, sans-serif" font-size="36.7" font-weight="normal" font-style="normal" fill="#000" >200</text>
<text x="583.30" y="1430.35" font-family="'Liberation Sans', Arial, sans-serif" font-size="36.7" font-weight="normal" font-style="normal" fill="#000" >300</text>
<text x="583.30" y="1297.90" font-family="'Liberation Sans', Arial, sans-serif" font-size="36.7" font-weight="normal" font-style="normal" fill="#000" >400</text>
<line x1="649.0" y1="1282.9" x2="649.0" y2="1815.7" stroke="#000" stroke-width="3.4"/>
<line x1="649.0" y1="1814.2" x2="1004.5" y2="1814.2" stroke="#000" stroke-width="3.6" stroke-linecap="round"/>
<path d="M704.6,1441.5 L704.6,1429.5 L765.9,1429.5 L765.9,1441.5" fill="none" stroke="#b3b3b3" stroke-width="1.7"/>
<text x="735.2" y="1433.5" font-family="'DejaVu Sans', 'Liberation Sans', sans-serif" font-weight="bold" font-size="35.5" letter-spacing="3.4" text-anchor="middle" fill="#000" stroke="#000" stroke-width="1.1" stroke-linejoin="round">****</text>
<path d="M704.6,1390.2 L704.6,1378.2 L827.1,1378.2 L827.1,1390.2" fill="none" stroke="#b3b3b3" stroke-width="1.7"/>
<text x="765.9" y="1382.2" font-family="'DejaVu Sans', 'Liberation Sans', sans-serif" font-weight="bold" font-size="35.5" letter-spacing="3.4" text-anchor="middle" fill="#000" stroke="#000" stroke-width="1.1" stroke-linejoin="round">***</text>
<path d="M704.6,1338.5 L704.6,1326.5 L888.4,1326.5 L888.4,1338.5" fill="none" stroke="#b3b3b3" stroke-width="1.7"/>
<text x="796.5" y="1330.5" font-family="'DejaVu Sans', 'Liberation Sans', sans-serif" font-weight="bold" font-size="35.5" letter-spacing="3.4" text-anchor="middle" fill="#000" stroke="#000" stroke-width="1.1" stroke-linejoin="round">**</text>
<text x="975.80" y="1304.50" font-family="'Liberation Sans', Arial, sans-serif" font-size="37.5" font-weight="bold" font-style="normal" fill="#2a2a2a" >E</text>
<text transform="translate(573.0,1539.4) rotate(-90)" x="0" y="0" font-family="'Liberation Sans', Arial, sans-serif" font-size="35" text-anchor="middle" fill="#000">[%]</text>
<rect x="1214.6" y="1691.6" width="52.6" height="121.4" fill="#ffffff" stroke="none"/>
<rect x="1214.6" y="1785.0" width="52.6" height="28.0" fill="url(#chkW)" stroke="none"/>
<line x1="1214.6" y1="1785.0" x2="1267.2" y2="1785.0" stroke="#1c1c1c" stroke-width="1.6"/>
<rect x="1214.6" y="1691.6" width="52.6" height="121.4" fill="none" stroke="#1c1c1c" stroke-width="2.1"/>
<rect x="1274.5" y="1508.3" width="52.6" height="304.7" fill="#cacaca" stroke="none"/>
<rect x="1274.5" y="1742.0" width="52.6" height="71.0" fill="url(#chkG)" stroke="none"/>
<line x1="1274.5" y1="1742.0" x2="1327.1" y2="1742.0" stroke="#1c1c1c" stroke-width="1.6"/>
<rect x="1274.5" y="1508.3" width="52.6" height="304.7" fill="none" stroke="#1c1c1c" stroke-width="2.1"/>
<rect x="1334.4" y="1541.1" width="52.6" height="271.9" fill="#365c1b" stroke="none"/>
<rect x="1334.4" y="1725.0" width="52.6" height="88.0" fill="url(#chkDG)" stroke="none"/>
<line x1="1334.4" y1="1725.0" x2="1387.0" y2="1725.0" stroke="#1c1c1c" stroke-width="1.6"/>
<rect x="1334.4" y="1541.1" width="52.6" height="271.9" fill="none" stroke="#1c1c1c" stroke-width="2.1"/>
<rect x="1394.3" y="1605.5" width="52.6" height="207.5" fill="#6bbf2f" stroke="none"/>
<rect x="1394.3" y="1746.5" width="52.6" height="66.5" fill="url(#chkG2)" stroke="none"/>
<line x1="1394.3" y1="1746.5" x2="1446.9" y2="1746.5" stroke="#1c1c1c" stroke-width="1.6"/>
<rect x="1394.3" y="1605.5" width="52.6" height="207.5" fill="none" stroke="#1c1c1c" stroke-width="2.1"/>
<rect x="1454.2" y="1661.3" width="52.6" height="151.7" fill="#9afa54" stroke="none"/>
<rect x="1454.2" y="1760.2" width="52.6" height="52.8" fill="url(#chkLG)" stroke="none"/>
<line x1="1454.2" y1="1760.2" x2="1506.8" y2="1760.2" stroke="#1c1c1c" stroke-width="1.6"/>
<rect x="1454.2" y="1661.3" width="52.6" height="151.7" fill="none" stroke="#1c1c1c" stroke-width="2.1"/>
<line x1="1240.9" y1="1679.8" x2="1240.9" y2="1702.2" stroke="#222" stroke-width="2.2"/>
<line x1="1227.9" y1="1679.8" x2="1253.9" y2="1679.8" stroke="#222" stroke-width="2.4"/>
<line x1="1227.9" y1="1702.2" x2="1253.9" y2="1702.2" stroke="#222" stroke-width="2.4"/>
<line x1="1240.9" y1="1780.3" x2="1240.9" y2="1788.3" stroke="#222" stroke-width="2.2"/>
<line x1="1227.9" y1="1780.3" x2="1253.9" y2="1780.3" stroke="#222" stroke-width="2.4"/>
<line x1="1227.9" y1="1788.3" x2="1253.9" y2="1788.3" stroke="#222" stroke-width="2.4"/>
<line x1="1300.8" y1="1470.7" x2="1300.8" y2="1543.4" stroke="#222" stroke-width="2.2"/>
<line x1="1287.8" y1="1470.7" x2="1313.8" y2="1470.7" stroke="#222" stroke-width="2.4"/>
<line x1="1287.8" y1="1543.4" x2="1313.8" y2="1543.4" stroke="#222" stroke-width="2.4"/>
<line x1="1300.8" y1="1737.0" x2="1300.8" y2="1745.9" stroke="#222" stroke-width="2.2"/>
<line x1="1287.8" y1="1737.0" x2="1313.8" y2="1737.0" stroke="#222" stroke-width="2.4"/>
<line x1="1287.8" y1="1745.9" x2="1313.8" y2="1745.9" stroke="#222" stroke-width="2.4"/>
<line x1="1360.7" y1="1492.3" x2="1360.7" y2="1589.6" stroke="#222" stroke-width="2.2"/>
<line x1="1347.7" y1="1492.3" x2="1373.7" y2="1492.3" stroke="#222" stroke-width="2.4"/>
<line x1="1347.7" y1="1589.6" x2="1373.7" y2="1589.6" stroke="#222" stroke-width="2.4"/>
<line x1="1360.7" y1="1707.0" x2="1360.7" y2="1741.0" stroke="#222" stroke-width="2.2"/>
<line x1="1347.7" y1="1707.0" x2="1373.7" y2="1707.0" stroke="#222" stroke-width="2.4"/>
<line x1="1347.7" y1="1741.0" x2="1373.7" y2="1741.0" stroke="#222" stroke-width="2.4"/>
<line x1="1420.6" y1="1545.0" x2="1420.6" y2="1665.5" stroke="#222" stroke-width="2.2"/>
<line x1="1407.6" y1="1545.0" x2="1433.6" y2="1545.0" stroke="#222" stroke-width="2.4"/>
<line x1="1407.6" y1="1665.5" x2="1433.6" y2="1665.5" stroke="#222" stroke-width="2.4"/>
<line x1="1420.6" y1="1729.3" x2="1420.6" y2="1761.8" stroke="#222" stroke-width="2.2"/>
<line x1="1407.6" y1="1729.3" x2="1433.6" y2="1729.3" stroke="#222" stroke-width="2.4"/>
<line x1="1407.6" y1="1761.8" x2="1433.6" y2="1761.8" stroke="#222" stroke-width="2.4"/>
<line x1="1480.5" y1="1632.7" x2="1480.5" y2="1689.4" stroke="#222" stroke-width="2.2"/>
<line x1="1467.5" y1="1632.7" x2="1493.5" y2="1632.7" stroke="#222" stroke-width="2.4"/>
<line x1="1467.5" y1="1689.4" x2="1493.5" y2="1689.4" stroke="#222" stroke-width="2.4"/>
<line x1="1480.5" y1="1748.4" x2="1480.5" y2="1771.4" stroke="#222" stroke-width="2.2"/>
<line x1="1467.5" y1="1748.4" x2="1493.5" y2="1748.4" stroke="#222" stroke-width="2.4"/>
<line x1="1467.5" y1="1771.4" x2="1493.5" y2="1771.4" stroke="#222" stroke-width="2.4"/>
<line x1="1185.0" y1="1708.7" x2="1196.3" y2="1708.7" stroke="#000" stroke-width="3"/>
<line x1="1185.0" y1="1604.4" x2="1196.3" y2="1604.4" stroke="#000" stroke-width="3"/>
<line x1="1185.0" y1="1500.1" x2="1196.3" y2="1500.1" stroke="#000" stroke-width="3"/>
<line x1="1185.0" y1="1395.8" x2="1196.3" y2="1395.8" stroke="#000" stroke-width="3"/>
<line x1="1185.0" y1="1291.5" x2="1196.3" y2="1291.5" stroke="#000" stroke-width="3"/>
<line x1="1185.0" y1="1760.8" x2="1191.7" y2="1760.8" stroke="#000" stroke-width="3"/>
<line x1="1185.0" y1="1656.5" x2="1191.7" y2="1656.5" stroke="#000" stroke-width="3"/>
<line x1="1185.0" y1="1552.2" x2="1191.7" y2="1552.2" stroke="#000" stroke-width="3"/>
<line x1="1185.0" y1="1448.0" x2="1191.7" y2="1448.0" stroke="#000" stroke-width="3"/>
<line x1="1185.0" y1="1343.7" x2="1191.7" y2="1343.7" stroke="#000" stroke-width="3"/>
<text x="1161.20" y="1826.30" font-family="'Liberation Sans', Arial, sans-serif" font-size="36.7" font-weight="normal" font-style="normal" fill="#000" >0</text>
<text x="1140.70" y="1722.00" font-family="'Liberation Sans', Arial, sans-serif" font-size="36.7" font-weight="normal" font-style="normal" fill="#000" >50</text>
<text x="1120.20" y="1617.70" font-family="'Liberation Sans', Arial, sans-serif" font-size="36.7" font-weight="normal" font-style="normal" fill="#000" >100</text>
<text x="1120.20" y="1513.40" font-family="'Liberation Sans', Arial, sans-serif" font-size="36.7" font-weight="normal" font-style="normal" fill="#000" >150</text>
<text x="1120.20" y="1409.10" font-family="'Liberation Sans', Arial, sans-serif" font-size="36.7" font-weight="normal" font-style="normal" fill="#000" >200</text>
<text x="1120.20" y="1304.80" font-family="'Liberation Sans', Arial, sans-serif" font-size="36.7" font-weight="normal" font-style="normal" fill="#000" >250</text>
<line x1="1186.5" y1="1290.0" x2="1186.5" y2="1814.5" stroke="#000" stroke-width="3.4"/>
<line x1="1186.5" y1="1813.0" x2="1536.1" y2="1813.0" stroke="#000" stroke-width="3.6" stroke-linecap="round"/>
<path d="M1241.9,1460.7 L1241.9,1446.7 L1301.8,1446.7 L1301.8,1460.7" fill="none" stroke="#b3b3b3" stroke-width="1.7"/>
<text font-family="'Liberation Sans', Arial, sans-serif" fill="#000" stroke="#000" stroke-width="0.7"><tspan x="1211.00" y="1437.20" font-size="33" textLength="63.95" lengthAdjust="spacingAndGlyphs" stroke-width="0.35">§§§§</tspan><tspan x="1274.95" y="1434.00" font-size="28.8">,####</tspan></text>
<path d="M1241.9,1406.0 L1241.9,1392.0 L1361.7,1392.0 L1361.7,1406.0" fill="none" stroke="#b3b3b3" stroke-width="1.7"/>
<text font-family="'Liberation Sans', Arial, sans-serif" fill="#000" stroke="#000" stroke-width="0.7"><tspan x="1271.97" y="1379.80" font-size="28.8">####</tspan></text>
<path d="M1241.9,1350.1 L1241.9,1336.1 L1421.6,1336.1 L1421.6,1350.1" fill="none" stroke="#b3b3b3" stroke-width="1.7"/>
<text font-family="'Liberation Sans', Arial, sans-serif" fill="#000" stroke="#000" stroke-width="0.7"><tspan x="1325.33" y="1322.40" font-size="28.8">#</tspan></text>
<text x="1519.50" y="1304.80" font-family="'Liberation Sans', Arial, sans-serif" font-size="37.5" font-weight="bold" font-style="normal" fill="#2a2a2a" >F</text>
<text transform="translate(1109.7,1726.60) rotate(-90)" font-family="'Liberation Sans', Arial, sans-serif" fill="#000"><tspan x="-0.37" y="0" font-size="36" textLength="119.68" lengthAdjust="spacingAndGlyphs">[pmol O</tspan><tspan x="119.75" y="8.1" font-size="26">2</tspan><tspan x="145.20" y="0" font-size="36">s</tspan><tspan x="162.55" y="-14.6" font-size="27.2">-1</tspan><tspan x="195.24" y="0" font-size="36" textLength="40.21" lengthAdjust="spacingAndGlyphs">10</tspan><tspan x="235.35" y="-14.6" font-size="27.2">-6</tspan><tspan x="266.74" y="0" font-size="36" textLength="70.31" lengthAdjust="spacingAndGlyphs">cells</tspan><tspan x="336.35" y="-14.6" font-size="27.2">-1</tspan><tspan x="359.55" y="0" font-size="36">]</tspan></text>
<rect x="164.1" y="2313.2" width="54" height="124.2" fill="#ffffff" stroke="#1c1c1c" stroke-width="2.1"/>
<rect x="225.3" y="2171.3" width="54" height="266.1" fill="#cacaca" stroke="#1c1c1c" stroke-width="2.1"/>
<rect x="286.6" y="2055.6" width="54" height="381.8" fill="#02007b" stroke="#1c1c1c" stroke-width="2.1"/>
<rect x="347.9" y="2135.6" width="54" height="301.8" fill="#0000fa" stroke="#1c1c1c" stroke-width="2.1"/>
<rect x="409.1" y="2244.0" width="54" height="193.4" fill="#5858f0" stroke="#1c1c1c" stroke-width="2.1"/>
<line x1="191.1" y1="2304.3" x2="191.1" y2="2320.3" stroke="#222" stroke-width="2.2"/>
<line x1="177.5" y1="2304.3" x2="204.7" y2="2304.3" stroke="#222" stroke-width="2.4"/>
<line x1="177.5" y1="2320.3" x2="204.7" y2="2320.3" stroke="#222" stroke-width="2.4"/>
<line x1="252.3" y1="2143.6" x2="252.3" y2="2196.8" stroke="#222" stroke-width="2.2"/>
<line x1="238.8" y1="2143.6" x2="265.9" y2="2143.6" stroke="#222" stroke-width="2.4"/>
<line x1="238.8" y1="2196.8" x2="265.9" y2="2196.8" stroke="#222" stroke-width="2.4"/>
<line x1="313.6" y1="1981.6" x2="313.6" y2="2127.7" stroke="#222" stroke-width="2.2"/>
<line x1="300.0" y1="1981.6" x2="327.2" y2="1981.6" stroke="#222" stroke-width="2.4"/>
<line x1="300.0" y1="2127.7" x2="327.2" y2="2127.7" stroke="#222" stroke-width="2.4"/>
<line x1="374.9" y1="2077.3" x2="374.9" y2="2191.4" stroke="#222" stroke-width="2.2"/>
<line x1="361.2" y1="2077.3" x2="388.5" y2="2077.3" stroke="#222" stroke-width="2.4"/>
<line x1="361.2" y1="2191.4" x2="388.5" y2="2191.4" stroke="#222" stroke-width="2.4"/>
<line x1="436.1" y1="2234.5" x2="436.1" y2="2251.0" stroke="#222" stroke-width="2.2"/>
<line x1="422.5" y1="2234.5" x2="449.7" y2="2234.5" stroke="#222" stroke-width="2.4"/>
<line x1="422.5" y1="2251.0" x2="449.7" y2="2251.0" stroke="#222" stroke-width="2.4"/>
<line x1="134.0" y1="2304.2" x2="145.3" y2="2304.2" stroke="#000" stroke-width="3"/>
<line x1="134.0" y1="2171.0" x2="145.3" y2="2171.0" stroke="#000" stroke-width="3"/>
<line x1="134.0" y1="2037.8" x2="145.3" y2="2037.8" stroke="#000" stroke-width="3"/>
<line x1="134.0" y1="1904.6" x2="145.3" y2="1904.6" stroke="#000" stroke-width="3"/>
<line x1="134.0" y1="2370.8" x2="140.7" y2="2370.8" stroke="#000" stroke-width="3"/>
<line x1="134.0" y1="2237.6" x2="140.7" y2="2237.6" stroke="#000" stroke-width="3"/>
<line x1="134.0" y1="2104.4" x2="140.7" y2="2104.4" stroke="#000" stroke-width="3"/>
<line x1="134.0" y1="1971.2" x2="140.7" y2="1971.2" stroke="#000" stroke-width="3"/>
<text x="110.80" y="2450.90" font-family="'Liberation Sans', Arial, sans-serif" font-size="36.7" font-weight="normal" font-style="normal" fill="#000" >0</text>
<text x="69.80" y="2317.70" font-family="'Liberation Sans', Arial, sans-serif" font-size="36.7" font-weight="normal" font-style="normal" fill="#000" >100</text>
<text x="69.80" y="2184.50" font-family="'Liberation Sans', Arial, sans-serif" font-size="36.7" font-weight="normal" font-style="normal" fill="#000" >200</text>
<text x="69.80" y="2051.30" font-family="'Liberation Sans', Arial, sans-serif" font-size="36.7" font-weight="normal" font-style="normal" fill="#000" >300</text>
<text x="69.80" y="1918.10" font-family="'Liberation Sans', Arial, sans-serif" font-size="36.7" font-weight="normal" font-style="normal" fill="#000" >400</text>
<line x1="135.5" y1="1903.1" x2="135.5" y2="2438.9" stroke="#000" stroke-width="3.4"/>
<line x1="135.5" y1="2437.4" x2="491.0" y2="2437.4" stroke="#000" stroke-width="3.6" stroke-linecap="round"/>
<path d="M191.1,2017.5 L191.1,2005.5 L252.3,2005.5 L252.3,2017.5" fill="none" stroke="#b3b3b3" stroke-width="1.7"/>
<text x="221.7" y="2009.5" font-family="'DejaVu Sans', 'Liberation Sans', sans-serif" font-weight="bold" font-size="35.5" letter-spacing="3.4" text-anchor="middle" fill="#000" stroke="#000" stroke-width="1.1" stroke-linejoin="round">**</text>
<path d="M191.1,1965.5 L191.1,1953.5 L313.6,1953.5 L313.6,1965.5" fill="none" stroke="#b3b3b3" stroke-width="1.7"/>
<text x="252.4" y="1957.5" font-family="'DejaVu Sans', 'Liberation Sans', sans-serif" font-weight="bold" font-size="35.5" letter-spacing="3.4" text-anchor="middle" fill="#000" stroke="#000" stroke-width="1.1" stroke-linejoin="round">****</text>
<path d="M191.1,1913.9 L191.1,1901.9 L374.9,1901.9 L374.9,1913.9" fill="none" stroke="#b3b3b3" stroke-width="1.7"/>
<text x="283.0" y="1905.9" font-family="'DejaVu Sans', 'Liberation Sans', sans-serif" font-weight="bold" font-size="35.5" letter-spacing="3.4" text-anchor="middle" fill="#000" stroke="#000" stroke-width="1.1" stroke-linejoin="round">****</text>
<text x="464.60" y="1899.00" font-family="'Liberation Sans', Arial, sans-serif" font-size="37.5" font-weight="bold" font-style="normal" fill="#2a2a2a" >G</text>
<text transform="translate(59.5,2161.0) rotate(-90)" x="0" y="0" font-family="'Liberation Sans', Arial, sans-serif" font-size="35" text-anchor="middle" fill="#000">[%]</text>
<rect x="677.6" y="2305.3" width="54" height="132.1" fill="#ffffff" stroke="#1c1c1c" stroke-width="2.1"/>
<rect x="738.9" y="2117.1" width="54" height="320.3" fill="#cacaca" stroke="#1c1c1c" stroke-width="2.1"/>
<rect x="800.1" y="2052.7" width="54" height="384.7" fill="#02007b" stroke="#1c1c1c" stroke-width="2.1"/>
<rect x="861.4" y="2128.9" width="54" height="308.5" fill="#0000fa" stroke="#1c1c1c" stroke-width="2.1"/>
<rect x="922.6" y="2255.8" width="54" height="181.6" fill="#5858f0" stroke="#1c1c1c" stroke-width="2.1"/>
<line x1="704.6" y1="2297.3" x2="704.6" y2="2311.6" stroke="#222" stroke-width="2.2"/>
<line x1="691.0" y1="2297.3" x2="718.2" y2="2297.3" stroke="#222" stroke-width="2.4"/>
<line x1="691.0" y1="2311.6" x2="718.2" y2="2311.6" stroke="#222" stroke-width="2.4"/>
<line x1="765.9" y1="2075.7" x2="765.9" y2="2156.4" stroke="#222" stroke-width="2.2"/>
<line x1="752.2" y1="2075.7" x2="779.5" y2="2075.7" stroke="#222" stroke-width="2.4"/>
<line x1="752.2" y1="2156.4" x2="779.5" y2="2156.4" stroke="#222" stroke-width="2.4"/>
<line x1="827.1" y1="1969.5" x2="827.1" y2="2134.0" stroke="#222" stroke-width="2.2"/>
<line x1="813.5" y1="1969.5" x2="840.7" y2="1969.5" stroke="#222" stroke-width="2.4"/>
<line x1="813.5" y1="2134.0" x2="840.7" y2="2134.0" stroke="#222" stroke-width="2.4"/>
<line x1="888.4" y1="2060.7" x2="888.4" y2="2194.3" stroke="#222" stroke-width="2.2"/>
<line x1="874.8" y1="2060.7" x2="902.0" y2="2060.7" stroke="#222" stroke-width="2.4"/>
<line x1="874.8" y1="2194.3" x2="902.0" y2="2194.3" stroke="#222" stroke-width="2.4"/>
<line x1="949.6" y1="2242.4" x2="949.6" y2="2266.4" stroke="#222" stroke-width="2.2"/>
<line x1="936.0" y1="2242.4" x2="963.2" y2="2242.4" stroke="#222" stroke-width="2.4"/>
<line x1="936.0" y1="2266.4" x2="963.2" y2="2266.4" stroke="#222" stroke-width="2.4"/>
<line x1="647.5" y1="2304.2" x2="658.8" y2="2304.2" stroke="#000" stroke-width="3"/>
<line x1="647.5" y1="2171.0" x2="658.8" y2="2171.0" stroke="#000" stroke-width="3"/>
<line x1="647.5" y1="2037.8" x2="658.8" y2="2037.8" stroke="#000" stroke-width="3"/>
<line x1="647.5" y1="1904.6" x2="658.8" y2="1904.6" stroke="#000" stroke-width="3"/>
<line x1="647.5" y1="2370.8" x2="654.2" y2="2370.8" stroke="#000" stroke-width="3"/>
<line x1="647.5" y1="2237.6" x2="654.2" y2="2237.6" stroke="#000" stroke-width="3"/>
<line x1="647.5" y1="2104.4" x2="654.2" y2="2104.4" stroke="#000" stroke-width="3"/>
<line x1="647.5" y1="1971.2" x2="654.2" y2="1971.2" stroke="#000" stroke-width="3"/>
<text x="624.30" y="2450.90" font-family="'Liberation Sans', Arial, sans-serif" font-size="36.7" font-weight="normal" font-style="normal" fill="#000" >0</text>
<text x="583.30" y="2317.70" font-family="'Liberation Sans', Arial, sans-serif" font-size="36.7" font-weight="normal" font-style="normal" fill="#000" >100</text>
<text x="583.30" y="2184.50" font-family="'Liberation Sans', Arial, sans-serif" font-size="36.7" font-weight="normal" font-style="normal" fill="#000" >200</text>
<text x="583.30" y="2051.30" font-family="'Liberation Sans', Arial, sans-serif" font-size="36.7" font-weight="normal" font-style="normal" fill="#000" >300</text>
<text x="583.30" y="1918.10" font-family="'Liberation Sans', Arial, sans-serif" font-size="36.7" font-weight="normal" font-style="normal" fill="#000" >400</text>
<line x1="649.0" y1="1903.1" x2="649.0" y2="2438.9" stroke="#000" stroke-width="3.4"/>
<line x1="649.0" y1="2437.4" x2="1004.5" y2="2437.4" stroke="#000" stroke-width="3.6" stroke-linecap="round"/>
<path d="M704.6,2008.6 L704.6,1996.6 L765.9,1996.6 L765.9,2008.6" fill="none" stroke="#b3b3b3" stroke-width="1.7"/>
<text x="735.2" y="2000.6" font-family="'DejaVu Sans', 'Liberation Sans', sans-serif" font-weight="bold" font-size="35.5" letter-spacing="3.4" text-anchor="middle" fill="#000" stroke="#000" stroke-width="1.1" stroke-linejoin="round">***</text>
<path d="M704.6,1957.0 L704.6,1945.0 L827.1,1945.0 L827.1,1957.0" fill="none" stroke="#b3b3b3" stroke-width="1.7"/>
<text x="765.9" y="1949.0" font-family="'DejaVu Sans', 'Liberation Sans', sans-serif" font-weight="bold" font-size="35.5" letter-spacing="3.4" text-anchor="middle" fill="#000" stroke="#000" stroke-width="1.1" stroke-linejoin="round">****</text>
<path d="M704.6,1905.0 L704.6,1893.0 L888.4,1893.0 L888.4,1905.0" fill="none" stroke="#b3b3b3" stroke-width="1.7"/>
<text x="796.5" y="1897.0" font-family="'DejaVu Sans', 'Liberation Sans', sans-serif" font-weight="bold" font-size="35.5" letter-spacing="3.4" text-anchor="middle" fill="#000" stroke="#000" stroke-width="1.1" stroke-linejoin="round">***</text>
<text x="974.90" y="1898.70" font-family="'Liberation Sans', Arial, sans-serif" font-size="37.5" font-weight="bold" font-style="normal" fill="#2a2a2a" >H</text>
<text transform="translate(573.0,2161.0) rotate(-90)" x="0" y="0" font-family="'Liberation Sans', Arial, sans-serif" font-size="35" text-anchor="middle" fill="#000">[%]</text>
<rect x="1214.6" y="2315.8" width="52.6" height="120.3" fill="#ffffff" stroke="none"/>
<rect x="1214.6" y="2408.3" width="52.6" height="27.8" fill="url(#chkW)" stroke="none"/>
<line x1="1214.6" y1="2408.3" x2="1267.2" y2="2408.3" stroke="#1c1c1c" stroke-width="1.6"/>
<rect x="1214.6" y="2315.8" width="52.6" height="120.3" fill="none" stroke="#1c1c1c" stroke-width="2.1"/>
<rect x="1274.5" y="2133.0" width="52.6" height="303.1" fill="#cacaca" stroke="none"/>
<rect x="1274.5" y="2365.9" width="52.6" height="70.2" fill="url(#chkG)" stroke="none"/>
<line x1="1274.5" y1="2365.9" x2="1327.1" y2="2365.9" stroke="#1c1c1c" stroke-width="1.6"/>
<rect x="1274.5" y="2133.0" width="52.6" height="303.1" fill="none" stroke="#1c1c1c" stroke-width="2.1"/>
<rect x="1334.4" y="2070.9" width="52.6" height="365.2" fill="#02007b" stroke="none"/>
<rect x="1334.4" y="2338.8" width="52.6" height="97.3" fill="url(#chkDB)" stroke="none"/>
<line x1="1334.4" y1="2338.8" x2="1387.0" y2="2338.8" stroke="#1c1c1c" stroke-width="1.6"/>
<rect x="1334.4" y="2070.9" width="52.6" height="365.2" fill="none" stroke="#1c1c1c" stroke-width="2.1"/>
<rect x="1394.3" y="2143.3" width="52.6" height="292.8" fill="#0000fa" stroke="none"/>
<rect x="1394.3" y="2355.7" width="52.6" height="80.4" fill="url(#chkB)" stroke="none"/>
<line x1="1394.3" y1="2355.7" x2="1446.9" y2="2355.7" stroke="#1c1c1c" stroke-width="1.6"/>
<rect x="1394.3" y="2143.3" width="52.6" height="292.8" fill="none" stroke="#1c1c1c" stroke-width="2.1"/>
<rect x="1454.2" y="2264.5" width="52.6" height="171.6" fill="#5858f0" stroke="none"/>
<rect x="1454.2" y="2380.2" width="52.6" height="55.9" fill="url(#chkLB)" stroke="none"/>
<line x1="1454.2" y1="2380.2" x2="1506.8" y2="2380.2" stroke="#1c1c1c" stroke-width="1.6"/>
<rect x="1454.2" y="2264.5" width="52.6" height="171.6" fill="none" stroke="#1c1c1c" stroke-width="2.1"/>
<line x1="1240.9" y1="2303.7" x2="1240.9" y2="2326.0" stroke="#222" stroke-width="2.2"/>
<line x1="1227.9" y1="2303.7" x2="1253.9" y2="2303.7" stroke="#222" stroke-width="2.4"/>
<line x1="1227.9" y1="2326.0" x2="1253.9" y2="2326.0" stroke="#222" stroke-width="2.4"/>
<line x1="1240.9" y1="2402.5" x2="1240.9" y2="2410.5" stroke="#222" stroke-width="2.2"/>
<line x1="1227.9" y1="2402.5" x2="1253.9" y2="2402.5" stroke="#222" stroke-width="2.4"/>
<line x1="1227.9" y1="2410.5" x2="1253.9" y2="2410.5" stroke="#222" stroke-width="2.4"/>
<line x1="1300.8" y1="2095.4" x2="1300.8" y2="2168.2" stroke="#222" stroke-width="2.2"/>
<line x1="1287.8" y1="2095.4" x2="1313.8" y2="2095.4" stroke="#222" stroke-width="2.4"/>
<line x1="1287.8" y1="2168.2" x2="1313.8" y2="2168.2" stroke="#222" stroke-width="2.4"/>
<line x1="1300.8" y1="2360.0" x2="1300.8" y2="2369.7" stroke="#222" stroke-width="2.2"/>
<line x1="1287.8" y1="2360.0" x2="1313.8" y2="2360.0" stroke="#222" stroke-width="2.4"/>
<line x1="1287.8" y1="2369.7" x2="1313.8" y2="2369.7" stroke="#222" stroke-width="2.4"/>
<line x1="1360.7" y1="2007.1" x2="1360.7" y2="2134.0" stroke="#222" stroke-width="2.2"/>
<line x1="1347.7" y1="2007.1" x2="1373.7" y2="2007.1" stroke="#222" stroke-width="2.4"/>
<line x1="1347.7" y1="2134.0" x2="1373.7" y2="2134.0" stroke="#222" stroke-width="2.4"/>
<line x1="1360.7" y1="2321.2" x2="1360.7" y2="2356.3" stroke="#222" stroke-width="2.2"/>
<line x1="1347.7" y1="2321.2" x2="1373.7" y2="2321.2" stroke="#222" stroke-width="2.4"/>
<line x1="1347.7" y1="2356.3" x2="1373.7" y2="2356.3" stroke="#222" stroke-width="2.4"/>
<line x1="1420.6" y1="2088.4" x2="1420.6" y2="2196.2" stroke="#222" stroke-width="2.2"/>
<line x1="1407.6" y1="2088.4" x2="1433.6" y2="2088.4" stroke="#222" stroke-width="2.4"/>
<line x1="1407.6" y1="2196.2" x2="1433.6" y2="2196.2" stroke="#222" stroke-width="2.4"/>
<line x1="1420.6" y1="2343.5" x2="1420.6" y2="2367.5" stroke="#222" stroke-width="2.2"/>
<line x1="1407.6" y1="2343.5" x2="1433.6" y2="2343.5" stroke="#222" stroke-width="2.4"/>
<line x1="1407.6" y1="2367.5" x2="1433.6" y2="2367.5" stroke="#222" stroke-width="2.4"/>
<line x1="1480.5" y1="2251.0" x2="1480.5" y2="2275.0" stroke="#222" stroke-width="2.2"/>
<line x1="1467.5" y1="2251.0" x2="1493.5" y2="2251.0" stroke="#222" stroke-width="2.4"/>
<line x1="1467.5" y1="2275.0" x2="1493.5" y2="2275.0" stroke="#222" stroke-width="2.4"/>
<line x1="1480.5" y1="2372.2" x2="1480.5" y2="2386.6" stroke="#222" stroke-width="2.2"/>
<line x1="1467.5" y1="2372.2" x2="1493.5" y2="2372.2" stroke="#222" stroke-width="2.4"/>
<line x1="1467.5" y1="2386.6" x2="1493.5" y2="2386.6" stroke="#222" stroke-width="2.4"/>
<line x1="1185.0" y1="2331.8" x2="1196.3" y2="2331.8" stroke="#000" stroke-width="3"/>
<line x1="1185.0" y1="2227.5" x2="1196.3" y2="2227.5" stroke="#000" stroke-width="3"/>
<line x1="1185.0" y1="2123.2" x2="1196.3" y2="2123.2" stroke="#000" stroke-width="3"/>
<line x1="1185.0" y1="2018.9" x2="1196.3" y2="2018.9" stroke="#000" stroke-width="3"/>
<line x1="1185.0" y1="1914.6" x2="1196.3" y2="1914.6" stroke="#000" stroke-width="3"/>
<line x1="1185.0" y1="2383.9" x2="1191.7" y2="2383.9" stroke="#000" stroke-width="3"/>
<line x1="1185.0" y1="2279.7" x2="1191.7" y2="2279.7" stroke="#000" stroke-width="3"/>
<line x1="1185.0" y1="2175.3" x2="1191.7" y2="2175.3" stroke="#000" stroke-width="3"/>
<line x1="1185.0" y1="2071.0" x2="1191.7" y2="2071.0" stroke="#000" stroke-width="3"/>
<line x1="1185.0" y1="1966.8" x2="1191.7" y2="1966.8" stroke="#000" stroke-width="3"/>
<text x="1161.20" y="2449.40" font-family="'Liberation Sans', Arial, sans-serif" font-size="36.7" font-weight="normal" font-style="normal" fill="#000" >0</text>
<text x="1140.70" y="2345.10" font-family="'Liberation Sans', Arial, sans-serif" font-size="36.7" font-weight="normal" font-style="normal" fill="#000" >50</text>
<text x="1120.20" y="2240.80" font-family="'Liberation Sans', Arial, sans-serif" font-size="36.7" font-weight="normal" font-style="normal" fill="#000" >100</text>
<text x="1120.20" y="2136.50" font-family="'Liberation Sans', Arial, sans-serif" font-size="36.7" font-weight="normal" font-style="normal" fill="#000" >150</text>
<text x="1120.20" y="2032.20" font-family="'Liberation Sans', Arial, sans-serif" font-size="36.7" font-weight="normal" font-style="normal" fill="#000" >200</text>
<text x="1120.20" y="1927.90" font-family="'Liberation Sans', Arial, sans-serif" font-size="36.7" font-weight="normal" font-style="normal" fill="#000" >250</text>
<line x1="1186.5" y1="1913.1" x2="1186.5" y2="2437.6" stroke="#000" stroke-width="3.4"/>
<line x1="1186.5" y1="2436.1" x2="1536.1" y2="2436.1" stroke="#000" stroke-width="3.6" stroke-linecap="round"/>
<path d="M1241.9,2056.2 L1241.9,2042.2 L1301.8,2042.2 L1301.8,2056.2" fill="none" stroke="#b3b3b3" stroke-width="1.7"/>
<text font-family="'Liberation Sans', Arial, sans-serif" fill="#000" stroke="#000" stroke-width="0.7"><tspan x="1207.25" y="2031.70" font-size="33" textLength="63.95" lengthAdjust="spacingAndGlyphs" stroke-width="0.35">§§§§</tspan><tspan x="1271.20" y="2028.50" font-size="28.8">,###</tspan></text>
<path d="M1241.9,1996.2 L1241.9,1982.2 L1361.7,1982.2 L1361.7,1996.2" fill="none" stroke="#b3b3b3" stroke-width="1.7"/>
<text font-family="'Liberation Sans', Arial, sans-serif" fill="#000" stroke="#000" stroke-width="0.7"><tspan x="1232.25" y="1972.70" font-size="33" textLength="63.95" lengthAdjust="spacingAndGlyphs" stroke-width="0.35">§§§§</tspan><tspan x="1296.20" y="1969.50" font-size="28.8">,####</tspan></text>
<path d="M1241.9,1936.0 L1241.9,1922.0 L1421.6,1922.0 L1421.6,1936.0" fill="none" stroke="#b3b3b3" stroke-width="1.7"/>
<text font-family="'Liberation Sans', Arial, sans-serif" fill="#000" stroke="#000" stroke-width="0.7"><tspan x="1269.25" y="1912.80" font-size="33" textLength="47.96" lengthAdjust="spacingAndGlyphs" stroke-width="0.35">§§§</tspan><tspan x="1317.21" y="1909.60" font-size="28.8">,####</tspan></text>
<text x="1519.50" y="1898.50" font-family="'Liberation Sans', Arial, sans-serif" font-size="37.5" font-weight="bold" font-style="normal" fill="#2a2a2a" >I</text>
<text transform="translate(1109.7,2350.20) rotate(-90)" font-family="'Liberation Sans', Arial, sans-serif" fill="#000"><tspan x="-0.37" y="0" font-size="36" textLength="119.68" lengthAdjust="spacingAndGlyphs">[pmol O</tspan><tspan x="119.75" y="8.1" font-size="26">2</tspan><tspan x="145.20" y="0" font-size="36">s</tspan><tspan x="162.55" y="-14.6" font-size="27.2">-1</tspan><tspan x="195.24" y="0" font-size="36" textLength="40.21" lengthAdjust="spacingAndGlyphs">10</tspan><tspan x="235.35" y="-14.6" font-size="27.2">-6</tspan><tspan x="266.74" y="0" font-size="36" textLength="70.31" lengthAdjust="spacingAndGlyphs">cells</tspan><tspan x="336.35" y="-14.6" font-size="27.2">-1</tspan><tspan x="359.55" y="0" font-size="36">]</tspan></text>
</svg></body></html>
